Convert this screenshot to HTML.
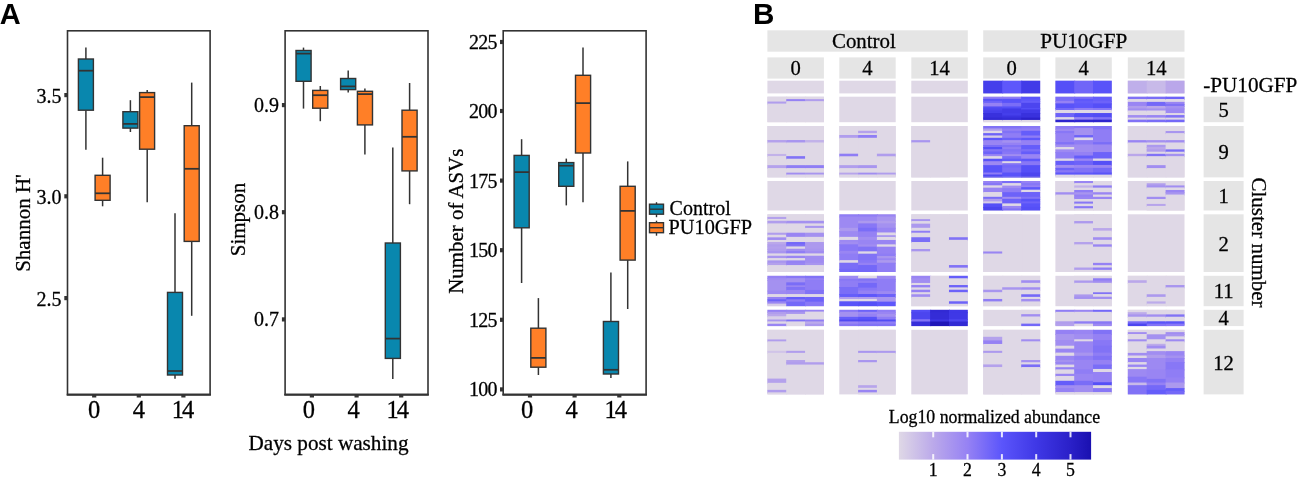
<!DOCTYPE html>
<html><head><meta charset="utf-8"><title>Figure</title>
<style>html,body{margin:0;padding:0;background:#fff;}body{width:1299px;height:479px;overflow:hidden;font-family:"Liberation Serif",serif;}svg{display:block}text{stroke:#000;stroke-width:0.28px;paint-order:stroke fill}text.b{stroke:none}</style>
</head><body>
<svg width="1299" height="479" viewBox="0 0 1299 479">
<defs><filter id="nf" filterUnits="userSpaceOnUse" x="0" y="0" width="1299" height="479" color-interpolation-filters="sRGB"><feOffset dx="0" dy="0"/></filter></defs>
<rect width="1299" height="479" fill="#fff"/>
<g filter="url(#nf)">
<rect x="67.5" y="30.8" width="142.6" height="363.7" fill="none" stroke="#333333" stroke-width="1.6"/>
<line x1="94.2" x2="94.2" y1="394.5" y2="397.5" stroke="#333333" stroke-width="4.2"/>
<text x="94.2" y="418" font-size="24.5" text-anchor="middle" font-family="Liberation Serif, serif" fill="#000">0</text>
<line x1="138.8" x2="138.8" y1="394.5" y2="397.5" stroke="#333333" stroke-width="4.2"/>
<text x="138.8" y="418" font-size="24.5" text-anchor="middle" font-family="Liberation Serif, serif" fill="#000">4</text>
<line x1="183.4" x2="183.4" y1="394.5" y2="397.5" stroke="#333333" stroke-width="4.2"/>
<text x="181.9" y="418" font-size="24.5" text-anchor="middle" letter-spacing="-2.0" font-family="Liberation Serif, serif" fill="#000">14</text>
<line x1="64.3" x2="67.5" y1="95.1" y2="95.1" stroke="#333333" stroke-width="4.2"/>
<text x="61.5" y="103.1" font-size="20" text-anchor="end" font-family="Liberation Serif, serif" fill="#000">3.5</text>
<line x1="64.3" x2="67.5" y1="196.3" y2="196.3" stroke="#333333" stroke-width="4.2"/>
<text x="61.5" y="204.3" font-size="20" text-anchor="end" font-family="Liberation Serif, serif" fill="#000">3.0</text>
<line x1="64.3" x2="67.5" y1="298.1" y2="298.1" stroke="#333333" stroke-width="4.2"/>
<text x="61.5" y="306.1" font-size="20" text-anchor="end" font-family="Liberation Serif, serif" fill="#000">2.5</text>
<line x1="85.9" x2="85.9" y1="47.5" y2="59.0" stroke="#333333" stroke-width="1.5"/><line x1="85.9" x2="85.9" y1="110.2" y2="149.7" stroke="#333333" stroke-width="1.5"/><rect x="78.4" y="59.0" width="15.0" height="51.2" fill="#0987AE" stroke="#333333" stroke-width="1.4"/><line x1="78.4" x2="93.4" y1="70.7" y2="70.7" stroke="#333333" stroke-width="1.75"/>
<line x1="102.6" x2="102.6" y1="157.7" y2="175.3" stroke="#333333" stroke-width="1.5"/><line x1="102.6" x2="102.6" y1="200.3" y2="206.3" stroke="#333333" stroke-width="1.5"/><rect x="95.1" y="175.3" width="15.0" height="25.0" fill="#FF7F27" stroke="#333333" stroke-width="1.4"/><line x1="95.1" x2="110.1" y1="193.3" y2="193.3" stroke="#333333" stroke-width="1.75"/>
<line x1="130.4" x2="130.4" y1="100.2" y2="111.7" stroke="#333333" stroke-width="1.5"/><line x1="130.4" x2="130.4" y1="128.1" y2="132.0" stroke="#333333" stroke-width="1.5"/><rect x="122.9" y="111.7" width="15.0" height="16.4" fill="#0987AE" stroke="#333333" stroke-width="1.4"/><line x1="122.9" x2="138.0" y1="123.9" y2="123.9" stroke="#333333" stroke-width="1.75"/>
<line x1="147.2" x2="147.2" y1="90.1" y2="92.6" stroke="#333333" stroke-width="1.5"/><line x1="147.2" x2="147.2" y1="149.2" y2="202.3" stroke="#333333" stroke-width="1.5"/><rect x="139.6" y="92.6" width="15.0" height="56.6" fill="#FF7F27" stroke="#333333" stroke-width="1.4"/><line x1="139.6" x2="154.7" y1="97.1" y2="97.1" stroke="#333333" stroke-width="1.75"/>
<line x1="175.0" x2="175.0" y1="213.3" y2="292.4" stroke="#333333" stroke-width="1.5"/><line x1="175.0" x2="175.0" y1="375.0" y2="378.7" stroke="#333333" stroke-width="1.5"/><rect x="167.5" y="292.4" width="15.0" height="82.6" fill="#0987AE" stroke="#333333" stroke-width="1.4"/><line x1="167.5" x2="182.5" y1="371.0" y2="371.0" stroke="#333333" stroke-width="1.75"/>
<line x1="191.7" x2="191.7" y1="82.6" y2="125.7" stroke="#333333" stroke-width="1.5"/><line x1="191.7" x2="191.7" y1="241.4" y2="315.8" stroke="#333333" stroke-width="1.5"/><rect x="184.2" y="125.7" width="15.0" height="115.7" fill="#FF7F27" stroke="#333333" stroke-width="1.4"/><line x1="184.2" x2="199.2" y1="168.8" y2="168.8" stroke="#333333" stroke-width="1.75"/>
<line x1="66.7" x2="210.9" y1="394.7" y2="394.7" stroke="#333333" stroke-width="2.0"/>
<rect x="285.1" y="30.8" width="142.9" height="363.7" fill="none" stroke="#333333" stroke-width="1.6"/>
<line x1="311.9" x2="311.9" y1="394.5" y2="397.5" stroke="#333333" stroke-width="4.2"/>
<text x="308.9" y="418" font-size="24.5" text-anchor="middle" font-family="Liberation Serif, serif" fill="#000">0</text>
<line x1="356.6" x2="356.6" y1="394.5" y2="397.5" stroke="#333333" stroke-width="4.2"/>
<text x="353.6" y="418" font-size="24.5" text-anchor="middle" font-family="Liberation Serif, serif" fill="#000">4</text>
<line x1="401.2" x2="401.2" y1="394.5" y2="397.5" stroke="#333333" stroke-width="4.2"/>
<text x="396.7" y="418" font-size="24.5" text-anchor="middle" letter-spacing="-2.0" font-family="Liberation Serif, serif" fill="#000">14</text>
<line x1="281.90000000000003" x2="285.1" y1="105.1" y2="105.1" stroke="#333333" stroke-width="4.2"/>
<text x="279.1" y="111.6" font-size="20" text-anchor="end" font-family="Liberation Serif, serif" fill="#000">0.9</text>
<line x1="281.90000000000003" x2="285.1" y1="212.2" y2="212.2" stroke="#333333" stroke-width="4.2"/>
<text x="279.1" y="218.7" font-size="20" text-anchor="end" font-family="Liberation Serif, serif" fill="#000">0.8</text>
<line x1="281.90000000000003" x2="285.1" y1="319.4" y2="319.4" stroke="#333333" stroke-width="4.2"/>
<text x="279.1" y="325.9" font-size="20" text-anchor="end" font-family="Liberation Serif, serif" fill="#000">0.7</text>
<line x1="303.5" x2="303.5" y1="47.6" y2="50.5" stroke="#333333" stroke-width="1.5"/><line x1="303.5" x2="303.5" y1="81.3" y2="108.6" stroke="#333333" stroke-width="1.5"/><rect x="296.0" y="50.5" width="15.1" height="30.8" fill="#0987AE" stroke="#333333" stroke-width="1.4"/><line x1="296.0" x2="311.1" y1="53.6" y2="53.6" stroke="#333333" stroke-width="1.75"/>
<line x1="320.3" x2="320.3" y1="86.0" y2="90.4" stroke="#333333" stroke-width="1.5"/><line x1="320.3" x2="320.3" y1="108.2" y2="121.2" stroke="#333333" stroke-width="1.5"/><rect x="312.7" y="90.4" width="15.1" height="17.8" fill="#FF7F27" stroke="#333333" stroke-width="1.4"/><line x1="312.7" x2="327.8" y1="95.2" y2="95.2" stroke="#333333" stroke-width="1.75"/>
<line x1="348.2" x2="348.2" y1="70.6" y2="78.5" stroke="#333333" stroke-width="1.5"/><line x1="348.2" x2="348.2" y1="89.6" y2="92.4" stroke="#333333" stroke-width="1.5"/><rect x="340.6" y="78.5" width="15.1" height="11.1" fill="#0987AE" stroke="#333333" stroke-width="1.4"/><line x1="340.6" x2="355.7" y1="86.4" y2="86.4" stroke="#333333" stroke-width="1.75"/>
<line x1="364.9" x2="364.9" y1="88.4" y2="91.3" stroke="#333333" stroke-width="1.5"/><line x1="364.9" x2="364.9" y1="124.9" y2="154.6" stroke="#333333" stroke-width="1.5"/><rect x="357.4" y="91.3" width="15.1" height="33.6" fill="#FF7F27" stroke="#333333" stroke-width="1.4"/><line x1="357.4" x2="372.5" y1="94.1" y2="94.1" stroke="#333333" stroke-width="1.75"/>
<line x1="392.8" x2="392.8" y1="147.5" y2="243.0" stroke="#333333" stroke-width="1.5"/><line x1="392.8" x2="392.8" y1="358.4" y2="379.0" stroke="#333333" stroke-width="1.5"/><rect x="385.3" y="243.0" width="15.1" height="115.4" fill="#0987AE" stroke="#333333" stroke-width="1.4"/><line x1="385.3" x2="400.4" y1="338.6" y2="338.6" stroke="#333333" stroke-width="1.75"/>
<line x1="409.6" x2="409.6" y1="83.0" y2="110.2" stroke="#333333" stroke-width="1.5"/><line x1="409.6" x2="409.6" y1="170.9" y2="204.2" stroke="#333333" stroke-width="1.5"/><rect x="402.0" y="110.2" width="15.1" height="60.7" fill="#FF7F27" stroke="#333333" stroke-width="1.4"/><line x1="402.0" x2="417.1" y1="136.8" y2="136.8" stroke="#333333" stroke-width="1.75"/>
<line x1="284.3" x2="428.8" y1="394.7" y2="394.7" stroke="#333333" stroke-width="2.0"/>
<rect x="503.2" y="30.8" width="142.9" height="363.7" fill="none" stroke="#333333" stroke-width="1.6"/>
<line x1="530.0" x2="530.0" y1="394.5" y2="397.5" stroke="#333333" stroke-width="4.2"/>
<text x="527.0" y="418" font-size="24.5" text-anchor="middle" font-family="Liberation Serif, serif" fill="#000">0</text>
<line x1="574.6" x2="574.6" y1="394.5" y2="397.5" stroke="#333333" stroke-width="4.2"/>
<text x="571.6" y="418" font-size="24.5" text-anchor="middle" font-family="Liberation Serif, serif" fill="#000">4</text>
<line x1="619.3" x2="619.3" y1="394.5" y2="397.5" stroke="#333333" stroke-width="4.2"/>
<text x="614.8" y="418" font-size="24.5" text-anchor="middle" letter-spacing="-2.0" font-family="Liberation Serif, serif" fill="#000">14</text>
<line x1="500.0" x2="503.2" y1="42" y2="42" stroke="#333333" stroke-width="4.2"/>
<text x="496.9" y="48.9" font-size="20" text-anchor="end" letter-spacing="-0.7" font-family="Liberation Serif, serif" fill="#000">225</text>
<line x1="500.0" x2="503.2" y1="111" y2="111" stroke="#333333" stroke-width="4.2"/>
<text x="496.9" y="117.9" font-size="20" text-anchor="end" letter-spacing="-0.7" font-family="Liberation Serif, serif" fill="#000">200</text>
<line x1="500.0" x2="503.2" y1="180.6" y2="180.6" stroke="#333333" stroke-width="4.2"/>
<text x="496.9" y="187.5" font-size="20" text-anchor="end" letter-spacing="-0.7" font-family="Liberation Serif, serif" fill="#000">175</text>
<line x1="500.0" x2="503.2" y1="250.2" y2="250.2" stroke="#333333" stroke-width="4.2"/>
<text x="496.9" y="257.09999999999997" font-size="20" text-anchor="end" letter-spacing="-0.7" font-family="Liberation Serif, serif" fill="#000">150</text>
<line x1="500.0" x2="503.2" y1="319.8" y2="319.8" stroke="#333333" stroke-width="4.2"/>
<text x="496.9" y="326.7" font-size="20" text-anchor="end" letter-spacing="-0.7" font-family="Liberation Serif, serif" fill="#000">125</text>
<line x1="500.0" x2="503.2" y1="389.4" y2="389.4" stroke="#333333" stroke-width="4.2"/>
<text x="496.9" y="396.29999999999995" font-size="20" text-anchor="end" letter-spacing="-0.7" font-family="Liberation Serif, serif" fill="#000">100</text>
<line x1="521.6" x2="521.6" y1="139.2" y2="155.4" stroke="#333333" stroke-width="1.5"/><line x1="521.6" x2="521.6" y1="227.8" y2="283.0" stroke="#333333" stroke-width="1.5"/><rect x="514.1" y="155.4" width="15.1" height="72.4" fill="#0987AE" stroke="#333333" stroke-width="1.4"/><line x1="514.1" x2="529.2" y1="172.1" y2="172.1" stroke="#333333" stroke-width="1.75"/>
<line x1="538.4" x2="538.4" y1="298.1" y2="328.2" stroke="#333333" stroke-width="1.5"/><line x1="538.4" x2="538.4" y1="367.2" y2="375.0" stroke="#333333" stroke-width="1.5"/><rect x="530.8" y="328.2" width="15.1" height="39.0" fill="#FF7F27" stroke="#333333" stroke-width="1.4"/><line x1="530.8" x2="545.9" y1="357.9" y2="357.9" stroke="#333333" stroke-width="1.75"/>
<line x1="566.3" x2="566.3" y1="158.6" y2="162.6" stroke="#333333" stroke-width="1.5"/><line x1="566.3" x2="566.3" y1="186.3" y2="205.4" stroke="#333333" stroke-width="1.5"/><rect x="558.7" y="162.6" width="15.1" height="23.7" fill="#0987AE" stroke="#333333" stroke-width="1.4"/><line x1="558.7" x2="573.8" y1="165.7" y2="165.7" stroke="#333333" stroke-width="1.75"/>
<line x1="583.0" x2="583.0" y1="47.6" y2="75.3" stroke="#333333" stroke-width="1.5"/><line x1="583.0" x2="583.0" y1="153.0" y2="202.2" stroke="#333333" stroke-width="1.5"/><rect x="575.5" y="75.3" width="15.1" height="77.7" fill="#FF7F27" stroke="#333333" stroke-width="1.4"/><line x1="575.5" x2="590.6" y1="103.1" y2="103.1" stroke="#333333" stroke-width="1.75"/>
<line x1="610.9" x2="610.9" y1="272.6" y2="321.5" stroke="#333333" stroke-width="1.5"/><line x1="610.9" x2="610.9" y1="374.0" y2="378.1" stroke="#333333" stroke-width="1.5"/><rect x="603.4" y="321.5" width="15.1" height="52.5" fill="#0987AE" stroke="#333333" stroke-width="1.4"/><line x1="603.4" x2="618.5" y1="369.8" y2="369.8" stroke="#333333" stroke-width="1.75"/>
<line x1="627.7" x2="627.7" y1="161.4" y2="186.3" stroke="#333333" stroke-width="1.5"/><line x1="627.7" x2="627.7" y1="260.1" y2="309.0" stroke="#333333" stroke-width="1.5"/><rect x="620.1" y="186.3" width="15.1" height="73.8" fill="#FF7F27" stroke="#333333" stroke-width="1.4"/><line x1="620.1" x2="635.2" y1="210.9" y2="210.9" stroke="#333333" stroke-width="1.75"/>
<line x1="502.4" x2="646.9" y1="394.7" y2="394.7" stroke="#333333" stroke-width="2.0"/>
<text transform="translate(29.9,223.0) rotate(-90)" font-size="21.0" text-anchor="middle" font-family="Liberation Serif, serif" fill="#000">Shannon H'</text>
<text transform="translate(244.7,219.5) rotate(-90)" font-size="21.0" text-anchor="middle" font-family="Liberation Serif, serif" fill="#000">Simpson</text>
<text transform="translate(462.6,221.2) rotate(-90)" font-size="20.9" text-anchor="middle" font-family="Liberation Serif, serif" fill="#000">Number of ASVs</text>
<text x="328.5" y="449.7" font-size="21.2" text-anchor="middle" font-family="Liberation Serif, serif" fill="#000">Days post washing</text>
<text x="-0.3" y="24.0" font-size="29" class="b" font-weight="bold" font-family="Liberation Sans, sans-serif" fill="#000">A</text>
<text x="752.9" y="24.1" font-size="29.6" class="b" font-weight="bold" font-family="Liberation Sans, sans-serif" fill="#000">B</text>
<line x1="656.5" x2="656.5" y1="202.2" y2="217.2" stroke="#333333" stroke-width="1.4"/>
<rect x="649.5" y="204.2" width="14" height="10" fill="#0987AE" stroke="#333333" stroke-width="1.4"/>
<line x1="649.5" x2="663.5" y1="209.2" y2="209.2" stroke="#333333" stroke-width="1.4"/>
<line x1="656.5" x2="656.5" y1="220.7" y2="235.7" stroke="#333333" stroke-width="1.4"/>
<rect x="649.5" y="222.7" width="14" height="10" fill="#FF7F27" stroke="#333333" stroke-width="1.4"/>
<line x1="649.5" x2="663.5" y1="227.7" y2="227.7" stroke="#333333" stroke-width="1.4"/>
<text x="669.6" y="215.2" font-size="20" font-family="Liberation Serif, serif" fill="#000">Control</text>
<text x="668.6" y="234.1" font-size="20.3" font-family="Liberation Serif, serif" fill="#000">PU10GFP</text>
<rect x="767.4" y="30.3" width="200.4" height="21.4" fill="#E5E5E5"/>
<rect x="983.2" y="30.3" width="201.3" height="21.4" fill="#E5E5E5"/>
<text x="863.9" y="47.6" font-size="20.9" text-anchor="middle" font-family="Liberation Serif, serif" fill="#000">Control</text>
<text x="1083.7" y="47.6" font-size="21.2" text-anchor="middle" font-family="Liberation Serif, serif" fill="#000">PU10GFP</text>
<rect x="767.4" y="57.4" width="56.5" height="21.2" fill="#E5E5E5"/>
<text x="795.6" y="75.0" font-size="20.6" text-anchor="middle" font-family="Liberation Serif, serif" fill="#000">0</text>
<rect x="839.3" y="57.4" width="56.4" height="21.2" fill="#E5E5E5"/>
<text x="867.5" y="75.0" font-size="20.6" text-anchor="middle" font-family="Liberation Serif, serif" fill="#000">4</text>
<rect x="911.3" y="57.4" width="56.5" height="21.2" fill="#E5E5E5"/>
<text x="939.5" y="75.0" font-size="20.6" text-anchor="middle" font-family="Liberation Serif, serif" fill="#000">14</text>
<rect x="983.2" y="57.4" width="57.0" height="21.2" fill="#E5E5E5"/>
<text x="1011.7" y="75.0" font-size="20.6" text-anchor="middle" font-family="Liberation Serif, serif" fill="#000">0</text>
<rect x="1055.4" y="57.4" width="56.4" height="21.2" fill="#E5E5E5"/>
<text x="1083.6" y="75.0" font-size="20.6" text-anchor="middle" font-family="Liberation Serif, serif" fill="#000">4</text>
<rect x="1127.8" y="57.4" width="56.7" height="21.2" fill="#E5E5E5"/>
<text x="1156.2" y="75.0" font-size="20.6" text-anchor="middle" font-family="Liberation Serif, serif" fill="#000">14</text>
<rect x="1203.6" y="96.7" width="40.0" height="25.5" fill="#E5E5E5"/>
<text x="1223.6" y="116.9" font-size="20.6" text-anchor="middle" font-family="Liberation Serif, serif" fill="#000">5</text>
<rect x="1203.6" y="126.0" width="40.0" height="51.4" fill="#E5E5E5"/>
<text x="1223.6" y="159.1" font-size="20.6" text-anchor="middle" font-family="Liberation Serif, serif" fill="#000">9</text>
<rect x="1203.6" y="181.0" width="40.0" height="29.5" fill="#E5E5E5"/>
<text x="1223.6" y="203.2" font-size="20.6" text-anchor="middle" font-family="Liberation Serif, serif" fill="#000">1</text>
<rect x="1203.6" y="214.3" width="40.0" height="57.7" fill="#E5E5E5"/>
<text x="1223.6" y="250.6" font-size="20.6" text-anchor="middle" font-family="Liberation Serif, serif" fill="#000">2</text>
<rect x="1203.6" y="275.8" width="40.0" height="30.4" fill="#E5E5E5"/>
<text x="1223.6" y="298.4" font-size="20.6" text-anchor="middle" font-family="Liberation Serif, serif" fill="#000">11</text>
<rect x="1203.6" y="309.8" width="40.0" height="16.3" fill="#E5E5E5"/>
<text x="1223.6" y="325.4" font-size="20.6" text-anchor="middle" font-family="Liberation Serif, serif" fill="#000">4</text>
<rect x="1203.6" y="329.8" width="40.0" height="64.6" fill="#E5E5E5"/>
<text x="1223.6" y="369.5" font-size="20.6" text-anchor="middle" font-family="Liberation Serif, serif" fill="#000">12</text>
<text x="1203.2" y="91.7" font-size="21.2" font-family="Liberation Serif, serif" fill="#000">-PU10GFP</text>
<text transform="translate(1252.3,242.5) rotate(90)" font-size="21.0" text-anchor="middle" font-family="Liberation Serif, serif" fill="#000">Cluster number</text>
<rect x="767.4" y="80.7" width="56.5" height="12.7" fill="#DFD8E6"/>
<rect x="839.3" y="80.7" width="56.4" height="12.7" fill="#DFD8E6"/>
<rect x="911.3" y="80.7" width="56.5" height="12.7" fill="#DFD8E6"/>
<rect x="983.2" y="80.7" width="57.0" height="12.7" fill="#DFD8E6"/>
<rect x="983.20" y="80.70" width="20.00" height="12.70" fill="#453FEB"/>
<rect x="1002.20" y="80.70" width="20.00" height="12.70" fill="#5E57FB"/>
<rect x="1021.20" y="80.70" width="19.00" height="12.70" fill="#423BE8"/>
<rect x="1055.4" y="80.7" width="56.4" height="12.7" fill="#DFD8E6"/>
<rect x="1055.40" y="80.70" width="19.80" height="12.70" fill="#554FF7"/>
<rect x="1074.20" y="80.70" width="19.80" height="12.70" fill="#7065F8"/>
<rect x="1093.00" y="80.70" width="18.80" height="12.70" fill="#5953F9"/>
<rect x="1127.8" y="80.7" width="56.7" height="12.7" fill="#DFD8E6"/>
<rect x="1127.80" y="80.70" width="19.90" height="12.70" fill="#BFAFEA"/>
<rect x="1146.70" y="80.70" width="19.90" height="12.70" fill="#C8BAE9"/>
<rect x="1165.60" y="80.70" width="18.90" height="12.70" fill="#BAA7EA"/>
<rect x="767.4" y="96.7" width="56.5" height="25.5" fill="#DFD8E6"/>
<rect x="767.40" y="96.70" width="19.83" height="5.86" fill="#DFD8E6"/>
<rect x="767.40" y="101.56" width="19.83" height="3.03" fill="#B09DED"/>
<rect x="767.40" y="103.59" width="19.83" height="18.61" fill="#DFD8E6"/>
<rect x="786.23" y="96.70" width="19.83" height="3.42" fill="#DFD8E6"/>
<rect x="786.23" y="99.12" width="19.83" height="3.03" fill="#9581F4"/>
<rect x="786.23" y="101.15" width="19.83" height="21.05" fill="#DFD8E6"/>
<rect x="805.07" y="96.70" width="18.83" height="3.42" fill="#DFD8E6"/>
<rect x="805.07" y="99.12" width="18.83" height="3.03" fill="#B09DED"/>
<rect x="805.07" y="101.15" width="18.83" height="21.05" fill="#DFD8E6"/>
<rect x="839.3" y="96.7" width="56.4" height="25.5" fill="#DFD8E6"/>
<rect x="911.3" y="96.7" width="56.5" height="25.5" fill="#DFD8E6"/>
<rect x="983.2" y="96.7" width="57.0" height="25.5" fill="#DFD8E6"/>
<rect x="983.20" y="96.70" width="20.00" height="3.12" fill="#8F7DF5"/>
<rect x="983.20" y="98.82" width="20.00" height="3.03" fill="#5953F9"/>
<rect x="983.20" y="100.85" width="20.00" height="3.03" fill="#6D62F9"/>
<rect x="983.20" y="102.88" width="20.00" height="4.56" fill="#9581F4"/>
<rect x="983.20" y="106.44" width="20.00" height="3.03" fill="#524CF4"/>
<rect x="983.20" y="108.47" width="20.00" height="3.03" fill="#4C45EF"/>
<rect x="983.20" y="110.50" width="20.00" height="3.54" fill="#453FEB"/>
<rect x="983.20" y="113.04" width="20.00" height="5.57" fill="#3931DD"/>
<rect x="983.20" y="117.61" width="20.00" height="3.34" fill="#322AD4"/>
<rect x="983.20" y="119.95" width="20.00" height="2.25" fill="#DFD8E6"/>
<rect x="1002.20" y="96.70" width="20.00" height="3.12" fill="#8F7DF5"/>
<rect x="1002.20" y="98.82" width="20.00" height="3.03" fill="#5953F9"/>
<rect x="1002.20" y="100.85" width="20.00" height="3.03" fill="#5953F9"/>
<rect x="1002.20" y="102.88" width="20.00" height="4.56" fill="#7A6DF7"/>
<rect x="1002.20" y="106.44" width="20.00" height="3.03" fill="#554FF7"/>
<rect x="1002.20" y="108.47" width="20.00" height="5.57" fill="#423BE8"/>
<rect x="1002.20" y="113.04" width="20.00" height="3.54" fill="#453FEB"/>
<rect x="1002.20" y="115.58" width="20.00" height="3.03" fill="#3B33E0"/>
<rect x="1002.20" y="117.61" width="20.00" height="3.34" fill="#342CD7"/>
<rect x="1002.20" y="119.95" width="20.00" height="2.25" fill="#DFD8E6"/>
<rect x="1021.20" y="96.70" width="19.00" height="3.12" fill="#5953F9"/>
<rect x="1021.20" y="98.82" width="19.00" height="3.03" fill="#5E57FB"/>
<rect x="1021.20" y="100.85" width="19.00" height="3.03" fill="#655DFA"/>
<rect x="1021.20" y="102.88" width="19.00" height="6.08" fill="#4C45EF"/>
<rect x="1021.20" y="107.96" width="19.00" height="2.52" fill="#554FF7"/>
<rect x="1021.20" y="109.48" width="19.00" height="4.56" fill="#423BE8"/>
<rect x="1021.20" y="113.04" width="19.00" height="5.57" fill="#3931DD"/>
<rect x="1021.20" y="117.61" width="19.00" height="3.34" fill="#2C22CB"/>
<rect x="1021.20" y="119.95" width="19.00" height="2.25" fill="#DFD8E6"/>
<rect x="1055.4" y="96.7" width="56.4" height="25.5" fill="#DFD8E6"/>
<rect x="1055.40" y="96.70" width="19.80" height="5.15" fill="#7A6DF7"/>
<rect x="1055.40" y="100.85" width="19.80" height="3.54" fill="#9581F4"/>
<rect x="1055.40" y="103.39" width="19.80" height="5.57" fill="#5953F9"/>
<rect x="1055.40" y="107.96" width="19.80" height="3.03" fill="#7468F8"/>
<rect x="1055.40" y="109.99" width="19.80" height="4.05" fill="#DFD8E6"/>
<rect x="1055.40" y="113.04" width="19.80" height="5.07" fill="#6D62F9"/>
<rect x="1055.40" y="117.11" width="19.80" height="3.54" fill="#DFD8E6"/>
<rect x="1055.40" y="119.65" width="19.80" height="2.55" fill="#2E25CE"/>
<rect x="1074.20" y="96.70" width="19.80" height="3.12" fill="#7A6DF7"/>
<rect x="1074.20" y="98.82" width="19.80" height="3.03" fill="#5E57FB"/>
<rect x="1074.20" y="100.85" width="19.80" height="3.54" fill="#655DFA"/>
<rect x="1074.20" y="103.39" width="19.80" height="5.57" fill="#5E57FB"/>
<rect x="1074.20" y="107.96" width="19.80" height="3.03" fill="#8F7DF5"/>
<rect x="1074.20" y="109.99" width="19.80" height="4.05" fill="#DFD8E6"/>
<rect x="1074.20" y="113.04" width="19.80" height="5.07" fill="#554FF7"/>
<rect x="1074.20" y="117.11" width="19.80" height="3.54" fill="#9985F3"/>
<rect x="1074.20" y="119.65" width="19.80" height="2.55" fill="#3027D1"/>
<rect x="1093.00" y="96.70" width="18.80" height="5.15" fill="#655DFA"/>
<rect x="1093.00" y="100.85" width="18.80" height="3.54" fill="#6D62F9"/>
<rect x="1093.00" y="103.39" width="18.80" height="5.57" fill="#554FF7"/>
<rect x="1093.00" y="107.96" width="18.80" height="3.03" fill="#8877F6"/>
<rect x="1093.00" y="109.99" width="18.80" height="4.05" fill="#DFD8E6"/>
<rect x="1093.00" y="113.04" width="18.80" height="5.07" fill="#524CF4"/>
<rect x="1093.00" y="117.11" width="18.80" height="3.54" fill="#8172F6"/>
<rect x="1093.00" y="119.65" width="18.80" height="2.55" fill="#2E25CE"/>
<rect x="1127.8" y="96.7" width="56.7" height="25.5" fill="#DFD8E6"/>
<rect x="1127.80" y="96.70" width="19.90" height="3.32" fill="#8172F6"/>
<rect x="1127.80" y="99.02" width="19.90" height="3.84" fill="#DFD8E6"/>
<rect x="1127.80" y="101.86" width="19.90" height="5.07" fill="#9985F3"/>
<rect x="1127.80" y="105.93" width="19.90" height="3.54" fill="#B09DED"/>
<rect x="1127.80" y="108.47" width="19.90" height="3.03" fill="#A18DF1"/>
<rect x="1127.80" y="110.50" width="19.90" height="5.57" fill="#DFD8E6"/>
<rect x="1127.80" y="115.07" width="19.90" height="3.54" fill="#A18DF1"/>
<rect x="1127.80" y="117.61" width="19.90" height="3.04" fill="#DFD8E6"/>
<rect x="1127.80" y="119.65" width="19.90" height="2.55" fill="#8172F6"/>
<rect x="1146.70" y="96.70" width="19.90" height="3.32" fill="#7A6DF7"/>
<rect x="1146.70" y="99.02" width="19.90" height="3.84" fill="#DFD8E6"/>
<rect x="1146.70" y="101.86" width="19.90" height="5.07" fill="#7468F8"/>
<rect x="1146.70" y="105.93" width="19.90" height="3.54" fill="#BAA7EA"/>
<rect x="1146.70" y="108.47" width="19.90" height="3.03" fill="#A491F0"/>
<rect x="1146.70" y="110.50" width="19.90" height="5.57" fill="#DFD8E6"/>
<rect x="1146.70" y="115.07" width="19.90" height="3.54" fill="#9985F3"/>
<rect x="1146.70" y="117.61" width="19.90" height="3.04" fill="#DFD8E6"/>
<rect x="1146.70" y="119.65" width="19.90" height="2.55" fill="#7A6DF7"/>
<rect x="1165.60" y="96.70" width="18.90" height="3.32" fill="#6D62F9"/>
<rect x="1165.60" y="99.02" width="18.90" height="3.84" fill="#DFD8E6"/>
<rect x="1165.60" y="101.86" width="18.90" height="3.04" fill="#9985F3"/>
<rect x="1165.60" y="103.90" width="18.90" height="3.03" fill="#8172F6"/>
<rect x="1165.60" y="105.93" width="18.90" height="3.54" fill="#A491F0"/>
<rect x="1165.60" y="108.47" width="18.90" height="5.57" fill="#9D89F2"/>
<rect x="1165.60" y="113.04" width="18.90" height="3.03" fill="#DFD8E6"/>
<rect x="1165.60" y="115.07" width="18.90" height="3.54" fill="#8172F6"/>
<rect x="1165.60" y="117.61" width="18.90" height="3.04" fill="#DFD8E6"/>
<rect x="1165.60" y="119.65" width="18.90" height="2.55" fill="#7468F8"/>
<rect x="767.4" y="126.0" width="56.5" height="51.4" fill="#DFD8E6"/>
<rect x="767.40" y="126.00" width="19.83" height="15.02" fill="#DFD8E6"/>
<rect x="767.40" y="140.02" width="19.83" height="3.45" fill="#B4A1EC"/>
<rect x="767.40" y="142.47" width="19.83" height="12.46" fill="#DFD8E6"/>
<rect x="767.40" y="153.93" width="19.83" height="3.11" fill="#C2B2E9"/>
<rect x="767.40" y="156.04" width="19.83" height="10.12" fill="#DFD8E6"/>
<rect x="767.40" y="165.16" width="19.83" height="3.92" fill="#B4A1EC"/>
<rect x="767.40" y="168.08" width="19.83" height="9.32" fill="#DFD8E6"/>
<rect x="786.23" y="126.00" width="19.83" height="15.02" fill="#DFD8E6"/>
<rect x="786.23" y="140.02" width="19.83" height="3.45" fill="#A895EF"/>
<rect x="786.23" y="142.47" width="19.83" height="14.68" fill="#DFD8E6"/>
<rect x="786.23" y="156.15" width="19.83" height="3.57" fill="#8172F6"/>
<rect x="786.23" y="158.72" width="19.83" height="7.44" fill="#DFD8E6"/>
<rect x="786.23" y="165.16" width="19.83" height="3.92" fill="#8F7DF5"/>
<rect x="786.23" y="168.08" width="19.83" height="5.56" fill="#DFD8E6"/>
<rect x="786.23" y="172.64" width="19.83" height="2.87" fill="#A18DF1"/>
<rect x="786.23" y="174.51" width="19.83" height="2.89" fill="#DFD8E6"/>
<rect x="805.07" y="126.00" width="18.83" height="15.02" fill="#DFD8E6"/>
<rect x="805.07" y="140.02" width="18.83" height="3.45" fill="#C2B2E9"/>
<rect x="805.07" y="142.47" width="18.83" height="23.69" fill="#DFD8E6"/>
<rect x="805.07" y="165.16" width="18.83" height="3.92" fill="#8F7DF5"/>
<rect x="805.07" y="168.08" width="18.83" height="5.56" fill="#DFD8E6"/>
<rect x="805.07" y="172.64" width="18.83" height="2.87" fill="#A895EF"/>
<rect x="805.07" y="174.51" width="18.83" height="2.89" fill="#DFD8E6"/>
<rect x="839.3" y="126.0" width="56.4" height="51.4" fill="#DFD8E6"/>
<rect x="839.30" y="126.00" width="19.80" height="9.99" fill="#DFD8E6"/>
<rect x="839.30" y="134.99" width="19.80" height="3.81" fill="#B09DED"/>
<rect x="839.30" y="137.80" width="19.80" height="16.90" fill="#DFD8E6"/>
<rect x="839.30" y="153.70" width="19.80" height="3.57" fill="#8F7DF5"/>
<rect x="839.30" y="156.27" width="19.80" height="9.89" fill="#DFD8E6"/>
<rect x="839.30" y="165.16" width="19.80" height="3.92" fill="#B09DED"/>
<rect x="839.30" y="168.08" width="19.80" height="5.56" fill="#DFD8E6"/>
<rect x="839.30" y="172.64" width="19.80" height="2.87" fill="#B7A4EB"/>
<rect x="839.30" y="174.51" width="19.80" height="2.89" fill="#DFD8E6"/>
<rect x="858.10" y="126.00" width="19.80" height="5.78" fill="#DFD8E6"/>
<rect x="858.10" y="130.78" width="19.80" height="3.34" fill="#B4A1EC"/>
<rect x="858.10" y="133.12" width="19.80" height="2.87" fill="#DFD8E6"/>
<rect x="858.10" y="134.99" width="19.80" height="3.81" fill="#8F7DF5"/>
<rect x="858.10" y="137.80" width="19.80" height="28.36" fill="#DFD8E6"/>
<rect x="858.10" y="165.16" width="19.80" height="3.92" fill="#A895EF"/>
<rect x="858.10" y="168.08" width="19.80" height="5.56" fill="#DFD8E6"/>
<rect x="858.10" y="172.64" width="19.80" height="2.87" fill="#A18DF1"/>
<rect x="858.10" y="174.51" width="19.80" height="2.89" fill="#DFD8E6"/>
<rect x="876.90" y="126.00" width="18.80" height="28.70" fill="#DFD8E6"/>
<rect x="876.90" y="153.70" width="18.80" height="3.57" fill="#B09DED"/>
<rect x="876.90" y="156.27" width="18.80" height="17.37" fill="#DFD8E6"/>
<rect x="876.90" y="172.64" width="18.80" height="2.87" fill="#B09DED"/>
<rect x="876.90" y="174.51" width="18.80" height="2.89" fill="#DFD8E6"/>
<rect x="911.3" y="126.0" width="56.5" height="51.4" fill="#DFD8E6"/>
<rect x="911.30" y="126.00" width="19.83" height="15.13" fill="#DFD8E6"/>
<rect x="911.30" y="140.13" width="19.83" height="3.23" fill="#A895EF"/>
<rect x="911.30" y="142.36" width="19.83" height="35.04" fill="#DFD8E6"/>
<rect x="930.13" y="126.00" width="19.83" height="51.40" fill="#DFD8E6"/>
<rect x="983.2" y="126.0" width="57.0" height="51.4" fill="#DFD8E6"/>
<rect x="983.20" y="126.00" width="20.00" height="3.44" fill="#8172F6"/>
<rect x="983.20" y="128.44" width="20.00" height="3.34" fill="#B09DED"/>
<rect x="983.20" y="130.78" width="20.00" height="3.34" fill="#DFD8E6"/>
<rect x="983.20" y="133.12" width="20.00" height="3.34" fill="#6D62F9"/>
<rect x="983.20" y="135.46" width="20.00" height="3.34" fill="#D6CCE7"/>
<rect x="983.20" y="137.80" width="20.00" height="3.33" fill="#5E57FB"/>
<rect x="983.20" y="140.13" width="20.00" height="5.92" fill="#9985F3"/>
<rect x="983.20" y="145.05" width="20.00" height="2.98" fill="#7A6DF7"/>
<rect x="983.20" y="147.03" width="20.00" height="3.11" fill="#554FF7"/>
<rect x="983.20" y="149.14" width="20.00" height="3.34" fill="#8172F6"/>
<rect x="983.20" y="151.48" width="20.00" height="3.68" fill="#6D62F9"/>
<rect x="983.20" y="154.16" width="20.00" height="2.99" fill="#9985F3"/>
<rect x="983.20" y="156.15" width="20.00" height="3.57" fill="#DFD8E6"/>
<rect x="983.20" y="158.72" width="20.00" height="3.46" fill="#5953F9"/>
<rect x="983.20" y="161.18" width="20.00" height="4.98" fill="#9D89F2"/>
<rect x="983.20" y="165.16" width="20.00" height="8.36" fill="#5953F9"/>
<rect x="983.20" y="172.52" width="20.00" height="2.99" fill="#8F7DF5"/>
<rect x="983.20" y="174.51" width="20.00" height="3.34" fill="#4F48F2"/>
<rect x="983.20" y="176.85" width="20.00" height="0.55" fill="#DFD8E6"/>
<rect x="1002.20" y="126.00" width="20.00" height="3.44" fill="#8172F6"/>
<rect x="1002.20" y="128.44" width="20.00" height="3.34" fill="#9581F4"/>
<rect x="1002.20" y="130.78" width="20.00" height="3.34" fill="#8172F6"/>
<rect x="1002.20" y="133.12" width="20.00" height="5.68" fill="#8F7DF5"/>
<rect x="1002.20" y="137.80" width="20.00" height="3.33" fill="#6D62F9"/>
<rect x="1002.20" y="140.13" width="20.00" height="3.58" fill="#A491F0"/>
<rect x="1002.20" y="142.71" width="20.00" height="3.34" fill="#9581F4"/>
<rect x="1002.20" y="145.05" width="20.00" height="2.98" fill="#8172F6"/>
<rect x="1002.20" y="147.03" width="20.00" height="3.11" fill="#8F7DF5"/>
<rect x="1002.20" y="149.14" width="20.00" height="3.34" fill="#8172F6"/>
<rect x="1002.20" y="151.48" width="20.00" height="3.68" fill="#8877F6"/>
<rect x="1002.20" y="154.16" width="20.00" height="2.99" fill="#A18DF1"/>
<rect x="1002.20" y="156.15" width="20.00" height="3.57" fill="#7A6DF7"/>
<rect x="1002.20" y="158.72" width="20.00" height="3.46" fill="#655DFA"/>
<rect x="1002.20" y="161.18" width="20.00" height="2.99" fill="#DFD8E6"/>
<rect x="1002.20" y="163.17" width="20.00" height="2.99" fill="#8172F6"/>
<rect x="1002.20" y="165.16" width="20.00" height="3.33" fill="#7468F8"/>
<rect x="1002.20" y="167.49" width="20.00" height="6.03" fill="#7A6DF7"/>
<rect x="1002.20" y="172.52" width="20.00" height="5.33" fill="#5953F9"/>
<rect x="1002.20" y="176.85" width="20.00" height="0.55" fill="#DFD8E6"/>
<rect x="1021.20" y="126.00" width="19.00" height="3.44" fill="#8877F6"/>
<rect x="1021.20" y="128.44" width="19.00" height="3.34" fill="#9581F4"/>
<rect x="1021.20" y="130.78" width="19.00" height="5.68" fill="#655DFA"/>
<rect x="1021.20" y="135.46" width="19.00" height="3.34" fill="#8F7DF5"/>
<rect x="1021.20" y="137.80" width="19.00" height="3.33" fill="#5E57FB"/>
<rect x="1021.20" y="140.13" width="19.00" height="5.92" fill="#9581F4"/>
<rect x="1021.20" y="145.05" width="19.00" height="5.09" fill="#655DFA"/>
<rect x="1021.20" y="149.14" width="19.00" height="3.34" fill="#7A6DF7"/>
<rect x="1021.20" y="151.48" width="19.00" height="3.68" fill="#655DFA"/>
<rect x="1021.20" y="154.16" width="19.00" height="5.56" fill="#9985F3"/>
<rect x="1021.20" y="158.72" width="19.00" height="3.46" fill="#5E57FB"/>
<rect x="1021.20" y="161.18" width="19.00" height="4.98" fill="#8877F6"/>
<rect x="1021.20" y="165.16" width="19.00" height="8.36" fill="#554FF7"/>
<rect x="1021.20" y="172.52" width="19.00" height="5.33" fill="#4C45EF"/>
<rect x="1021.20" y="176.85" width="19.00" height="0.55" fill="#DFD8E6"/>
<rect x="1055.4" y="126.0" width="56.4" height="51.4" fill="#DFD8E6"/>
<rect x="1055.40" y="126.00" width="19.80" height="3.68" fill="#8F7DF5"/>
<rect x="1055.40" y="128.68" width="19.80" height="3.34" fill="#9D89F2"/>
<rect x="1055.40" y="131.02" width="19.80" height="3.10" fill="#8877F6"/>
<rect x="1055.40" y="133.12" width="19.80" height="10.00" fill="#9581F4"/>
<rect x="1055.40" y="142.12" width="19.80" height="3.34" fill="#8172F6"/>
<rect x="1055.40" y="144.46" width="19.80" height="3.57" fill="#A18DF1"/>
<rect x="1055.40" y="147.03" width="19.80" height="3.34" fill="#DFD8E6"/>
<rect x="1055.40" y="149.37" width="19.80" height="3.69" fill="#9D89F2"/>
<rect x="1055.40" y="152.06" width="19.80" height="7.43" fill="#8F7DF5"/>
<rect x="1055.40" y="158.49" width="19.80" height="3.34" fill="#DFD8E6"/>
<rect x="1055.40" y="160.83" width="19.80" height="5.09" fill="#655DFA"/>
<rect x="1055.40" y="164.92" width="19.80" height="3.92" fill="#A18DF1"/>
<rect x="1055.40" y="167.84" width="19.80" height="3.34" fill="#6D62F9"/>
<rect x="1055.40" y="170.18" width="19.80" height="3.34" fill="#8877F6"/>
<rect x="1055.40" y="172.52" width="19.80" height="3.11" fill="#5E57FB"/>
<rect x="1055.40" y="174.63" width="19.80" height="2.77" fill="#DFD8E6"/>
<rect x="1074.20" y="126.00" width="19.80" height="3.09" fill="#8877F6"/>
<rect x="1074.20" y="128.09" width="19.80" height="8.02" fill="#A491F0"/>
<rect x="1074.20" y="135.11" width="19.80" height="3.34" fill="#6D62F9"/>
<rect x="1074.20" y="137.45" width="19.80" height="3.68" fill="#DFD8E6"/>
<rect x="1074.20" y="140.13" width="19.80" height="5.33" fill="#8F7DF5"/>
<rect x="1074.20" y="144.46" width="19.80" height="8.60" fill="#A18DF1"/>
<rect x="1074.20" y="152.06" width="19.80" height="4.51" fill="#9581F4"/>
<rect x="1074.20" y="155.57" width="19.80" height="3.92" fill="#655DFA"/>
<rect x="1074.20" y="158.49" width="19.80" height="3.34" fill="#9985F3"/>
<rect x="1074.20" y="160.83" width="19.80" height="5.09" fill="#6D62F9"/>
<rect x="1074.20" y="164.92" width="19.80" height="3.92" fill="#9985F3"/>
<rect x="1074.20" y="167.84" width="19.80" height="5.68" fill="#8172F6"/>
<rect x="1074.20" y="172.52" width="19.80" height="3.11" fill="#5E57FB"/>
<rect x="1074.20" y="174.63" width="19.80" height="2.77" fill="#DFD8E6"/>
<rect x="1093.00" y="126.00" width="18.80" height="4.26" fill="#8172F6"/>
<rect x="1093.00" y="129.26" width="18.80" height="13.86" fill="#8F7DF5"/>
<rect x="1093.00" y="142.12" width="18.80" height="3.34" fill="#7A6DF7"/>
<rect x="1093.00" y="144.46" width="18.80" height="8.60" fill="#9D89F2"/>
<rect x="1093.00" y="152.06" width="18.80" height="7.43" fill="#6D62F9"/>
<rect x="1093.00" y="158.49" width="18.80" height="3.34" fill="#DFD8E6"/>
<rect x="1093.00" y="160.83" width="18.80" height="5.09" fill="#554FF7"/>
<rect x="1093.00" y="164.92" width="18.80" height="3.92" fill="#9985F3"/>
<rect x="1093.00" y="167.84" width="18.80" height="5.68" fill="#7468F8"/>
<rect x="1093.00" y="172.52" width="18.80" height="3.11" fill="#5953F9"/>
<rect x="1093.00" y="174.63" width="18.80" height="2.77" fill="#DFD8E6"/>
<rect x="1127.8" y="126.0" width="56.7" height="51.4" fill="#DFD8E6"/>
<rect x="1127.80" y="126.00" width="19.90" height="15.13" fill="#DFD8E6"/>
<rect x="1127.80" y="140.13" width="19.90" height="3.34" fill="#9985F3"/>
<rect x="1127.80" y="142.47" width="19.90" height="12.34" fill="#DFD8E6"/>
<rect x="1127.80" y="153.81" width="19.90" height="3.34" fill="#BAA7EA"/>
<rect x="1127.80" y="156.15" width="19.90" height="21.25" fill="#DFD8E6"/>
<rect x="1146.70" y="126.00" width="19.90" height="15.13" fill="#DFD8E6"/>
<rect x="1146.70" y="140.13" width="19.90" height="3.34" fill="#A491F0"/>
<rect x="1146.70" y="142.47" width="19.90" height="3.34" fill="#DFD8E6"/>
<rect x="1146.70" y="144.81" width="19.90" height="3.22" fill="#AC99EE"/>
<rect x="1146.70" y="147.03" width="19.90" height="3.34" fill="#BAA7EA"/>
<rect x="1146.70" y="149.37" width="19.90" height="3.34" fill="#B09DED"/>
<rect x="1146.70" y="151.71" width="19.90" height="3.10" fill="#DFD8E6"/>
<rect x="1146.70" y="153.81" width="19.90" height="3.34" fill="#8172F6"/>
<rect x="1146.70" y="156.15" width="19.90" height="10.01" fill="#DFD8E6"/>
<rect x="1146.70" y="165.16" width="19.90" height="3.92" fill="#A18DF1"/>
<rect x="1146.70" y="168.08" width="19.90" height="9.32" fill="#DFD8E6"/>
<rect x="1165.60" y="126.00" width="18.90" height="6.02" fill="#DFD8E6"/>
<rect x="1165.60" y="131.02" width="18.90" height="3.10" fill="#A895EF"/>
<rect x="1165.60" y="133.12" width="18.90" height="8.01" fill="#DFD8E6"/>
<rect x="1165.60" y="140.13" width="18.90" height="3.34" fill="#A18DF1"/>
<rect x="1165.60" y="142.47" width="18.90" height="7.90" fill="#DFD8E6"/>
<rect x="1165.60" y="149.37" width="18.90" height="3.34" fill="#7A6DF7"/>
<rect x="1165.60" y="151.71" width="18.90" height="3.10" fill="#DFD8E6"/>
<rect x="1165.60" y="153.81" width="18.90" height="3.34" fill="#A491F0"/>
<rect x="1165.60" y="156.15" width="18.90" height="21.25" fill="#DFD8E6"/>
<rect x="767.4" y="181.0" width="56.5" height="29.5" fill="#DFD8E6"/>
<rect x="839.3" y="181.0" width="56.4" height="29.5" fill="#DFD8E6"/>
<rect x="911.3" y="181.0" width="56.5" height="29.5" fill="#DFD8E6"/>
<rect x="983.2" y="181.0" width="57.0" height="29.5" fill="#DFD8E6"/>
<rect x="983.20" y="181.00" width="20.00" height="3.08" fill="#9581F4"/>
<rect x="983.20" y="183.08" width="20.00" height="3.24" fill="#8877F6"/>
<rect x="983.20" y="185.32" width="20.00" height="3.33" fill="#DFD8E6"/>
<rect x="983.20" y="187.65" width="20.00" height="5.37" fill="#9985F3"/>
<rect x="983.20" y="192.02" width="20.00" height="5.78" fill="#DFD8E6"/>
<rect x="983.20" y="196.80" width="20.00" height="3.03" fill="#7A6DF7"/>
<rect x="983.20" y="198.83" width="20.00" height="3.54" fill="#B09DED"/>
<rect x="983.20" y="201.37" width="20.00" height="3.03" fill="#D6CCE7"/>
<rect x="983.20" y="203.40" width="20.00" height="4.56" fill="#554FF7"/>
<rect x="983.20" y="206.96" width="20.00" height="3.54" fill="#4C45EF"/>
<rect x="1002.20" y="181.00" width="20.00" height="3.08" fill="#7A6DF7"/>
<rect x="1002.20" y="183.08" width="20.00" height="3.54" fill="#DFD8E6"/>
<rect x="1002.20" y="185.62" width="20.00" height="3.54" fill="#A18DF1"/>
<rect x="1002.20" y="188.16" width="20.00" height="5.07" fill="#8F7DF5"/>
<rect x="1002.20" y="192.23" width="20.00" height="5.57" fill="#6D62F9"/>
<rect x="1002.20" y="196.80" width="20.00" height="3.03" fill="#A18DF1"/>
<rect x="1002.20" y="198.83" width="20.00" height="5.57" fill="#6D62F9"/>
<rect x="1002.20" y="203.40" width="20.00" height="3.54" fill="#DFD8E6"/>
<rect x="1002.20" y="205.94" width="20.00" height="3.54" fill="#9985F3"/>
<rect x="1002.20" y="208.48" width="20.00" height="2.02" fill="#8172F6"/>
<rect x="1021.20" y="181.00" width="19.00" height="3.08" fill="#9581F4"/>
<rect x="1021.20" y="183.08" width="19.00" height="3.24" fill="#8877F6"/>
<rect x="1021.20" y="185.32" width="19.00" height="2.83" fill="#9581F4"/>
<rect x="1021.20" y="187.15" width="19.00" height="3.54" fill="#5E57FB"/>
<rect x="1021.20" y="189.69" width="19.00" height="3.33" fill="#DFD8E6"/>
<rect x="1021.20" y="192.02" width="19.00" height="5.78" fill="#6D62F9"/>
<rect x="1021.20" y="196.80" width="19.00" height="3.03" fill="#8172F6"/>
<rect x="1021.20" y="198.83" width="19.00" height="3.54" fill="#5953F9"/>
<rect x="1021.20" y="201.37" width="19.00" height="3.03" fill="#6D62F9"/>
<rect x="1021.20" y="203.40" width="19.00" height="4.56" fill="#5953F9"/>
<rect x="1021.20" y="206.96" width="19.00" height="3.54" fill="#554FF7"/>
<rect x="1055.4" y="181.0" width="56.4" height="29.5" fill="#DFD8E6"/>
<rect x="1055.40" y="181.00" width="19.80" height="12.23" fill="#DFD8E6"/>
<rect x="1055.40" y="192.23" width="19.80" height="3.33" fill="#A18DF1"/>
<rect x="1055.40" y="194.56" width="19.80" height="15.94" fill="#DFD8E6"/>
<rect x="1074.20" y="181.00" width="19.80" height="3.08" fill="#9985F3"/>
<rect x="1074.20" y="183.08" width="19.80" height="3.34" fill="#DFD8E6"/>
<rect x="1074.20" y="185.42" width="19.80" height="3.23" fill="#C2B2E9"/>
<rect x="1074.20" y="187.65" width="19.80" height="3.34" fill="#DFD8E6"/>
<rect x="1074.20" y="189.99" width="19.80" height="3.24" fill="#8F7DF5"/>
<rect x="1074.20" y="192.23" width="19.80" height="3.33" fill="#A895EF"/>
<rect x="1074.20" y="194.56" width="19.80" height="3.24" fill="#9581F4"/>
<rect x="1074.20" y="196.80" width="19.80" height="3.23" fill="#9985F3"/>
<rect x="1074.20" y="199.03" width="19.80" height="3.55" fill="#DFD8E6"/>
<rect x="1074.20" y="201.58" width="19.80" height="3.03" fill="#8877F6"/>
<rect x="1074.20" y="203.61" width="19.80" height="3.54" fill="#DFD8E6"/>
<rect x="1074.20" y="206.15" width="19.80" height="3.13" fill="#8877F6"/>
<rect x="1074.20" y="208.28" width="19.80" height="2.22" fill="#DFD8E6"/>
<rect x="1093.00" y="181.00" width="18.80" height="5.42" fill="#DFD8E6"/>
<rect x="1093.00" y="185.42" width="18.80" height="3.23" fill="#8F7DF5"/>
<rect x="1093.00" y="187.65" width="18.80" height="5.58" fill="#DFD8E6"/>
<rect x="1093.00" y="192.23" width="18.80" height="3.33" fill="#9985F3"/>
<rect x="1093.00" y="194.56" width="18.80" height="3.24" fill="#DFD8E6"/>
<rect x="1093.00" y="196.80" width="18.80" height="3.23" fill="#9985F3"/>
<rect x="1093.00" y="199.03" width="18.80" height="11.47" fill="#DFD8E6"/>
<rect x="1127.8" y="181.0" width="56.7" height="29.5" fill="#DFD8E6"/>
<rect x="1146.70" y="181.00" width="19.90" height="3.28" fill="#DFD8E6"/>
<rect x="1146.70" y="183.28" width="19.90" height="3.14" fill="#B09DED"/>
<rect x="1146.70" y="185.42" width="19.90" height="3.03" fill="#A491F0"/>
<rect x="1146.70" y="187.45" width="19.90" height="10.35" fill="#DFD8E6"/>
<rect x="1146.70" y="196.80" width="19.90" height="3.23" fill="#A18DF1"/>
<rect x="1146.70" y="199.03" width="19.90" height="5.88" fill="#DFD8E6"/>
<rect x="1146.70" y="203.91" width="19.90" height="3.03" fill="#B7A4EB"/>
<rect x="1146.70" y="205.94" width="19.90" height="4.56" fill="#DFD8E6"/>
<rect x="1165.60" y="181.00" width="18.90" height="5.42" fill="#DFD8E6"/>
<rect x="1165.60" y="185.42" width="18.90" height="3.03" fill="#A18DF1"/>
<rect x="1165.60" y="187.45" width="18.90" height="3.54" fill="#DFD8E6"/>
<rect x="1165.60" y="189.99" width="18.90" height="3.24" fill="#9985F3"/>
<rect x="1165.60" y="192.23" width="18.90" height="3.33" fill="#A895EF"/>
<rect x="1165.60" y="194.56" width="18.90" height="15.94" fill="#DFD8E6"/>
<rect x="767.4" y="214.3" width="56.5" height="57.7" fill="#DFD8E6"/>
<rect x="767.40" y="214.30" width="19.83" height="3.62" fill="#DFD8E6"/>
<rect x="767.40" y="216.92" width="19.83" height="3.07" fill="#B4A1EC"/>
<rect x="767.40" y="218.99" width="19.83" height="2.81" fill="#DFD8E6"/>
<rect x="767.40" y="220.80" width="19.83" height="3.59" fill="#B09DED"/>
<rect x="767.40" y="223.39" width="19.83" height="10.32" fill="#DFD8E6"/>
<rect x="767.40" y="232.71" width="19.83" height="3.07" fill="#B09DED"/>
<rect x="767.40" y="234.78" width="19.83" height="3.58" fill="#DFD8E6"/>
<rect x="767.40" y="237.36" width="19.83" height="3.59" fill="#A18DF1"/>
<rect x="767.40" y="239.95" width="19.83" height="3.07" fill="#DFD8E6"/>
<rect x="767.40" y="242.02" width="19.83" height="3.33" fill="#BAA7EA"/>
<rect x="767.40" y="244.35" width="19.83" height="3.07" fill="#B09DED"/>
<rect x="767.40" y="246.42" width="19.83" height="3.33" fill="#B4A1EC"/>
<rect x="767.40" y="248.75" width="19.83" height="3.33" fill="#B09DED"/>
<rect x="767.40" y="251.08" width="19.83" height="3.33" fill="#A895EF"/>
<rect x="767.40" y="253.41" width="19.83" height="3.33" fill="#DFD8E6"/>
<rect x="767.40" y="255.74" width="19.83" height="3.33" fill="#A895EF"/>
<rect x="767.40" y="258.07" width="19.83" height="3.33" fill="#DFD8E6"/>
<rect x="767.40" y="260.40" width="19.83" height="3.33" fill="#A895EF"/>
<rect x="767.40" y="262.73" width="19.83" height="3.33" fill="#B4A1EC"/>
<rect x="767.40" y="265.06" width="19.83" height="6.94" fill="#DFD8E6"/>
<rect x="786.23" y="214.30" width="19.83" height="7.50" fill="#DFD8E6"/>
<rect x="786.23" y="220.80" width="19.83" height="3.59" fill="#A491F0"/>
<rect x="786.23" y="223.39" width="19.83" height="10.32" fill="#DFD8E6"/>
<rect x="786.23" y="232.71" width="19.83" height="3.07" fill="#9985F3"/>
<rect x="786.23" y="234.78" width="19.83" height="3.07" fill="#9985F3"/>
<rect x="786.23" y="236.85" width="19.83" height="6.17" fill="#DFD8E6"/>
<rect x="786.23" y="242.02" width="19.83" height="3.33" fill="#7468F8"/>
<rect x="786.23" y="244.35" width="19.83" height="3.07" fill="#8172F6"/>
<rect x="786.23" y="246.42" width="19.83" height="3.33" fill="#DFD8E6"/>
<rect x="786.23" y="248.75" width="19.83" height="3.33" fill="#A18DF1"/>
<rect x="786.23" y="251.08" width="19.83" height="3.33" fill="#8F7DF5"/>
<rect x="786.23" y="253.41" width="19.83" height="3.33" fill="#DFD8E6"/>
<rect x="786.23" y="255.74" width="19.83" height="3.33" fill="#9985F3"/>
<rect x="786.23" y="258.07" width="19.83" height="3.33" fill="#DFD8E6"/>
<rect x="786.23" y="260.40" width="19.83" height="3.33" fill="#9581F4"/>
<rect x="786.23" y="262.73" width="19.83" height="3.33" fill="#9985F3"/>
<rect x="786.23" y="265.06" width="19.83" height="6.94" fill="#DFD8E6"/>
<rect x="805.07" y="214.30" width="18.83" height="7.50" fill="#DFD8E6"/>
<rect x="805.07" y="220.80" width="18.83" height="3.59" fill="#A491F0"/>
<rect x="805.07" y="223.39" width="18.83" height="3.46" fill="#DFD8E6"/>
<rect x="805.07" y="225.85" width="18.83" height="3.07" fill="#A895EF"/>
<rect x="805.07" y="227.92" width="18.83" height="5.79" fill="#DFD8E6"/>
<rect x="805.07" y="232.71" width="18.83" height="3.07" fill="#A491F0"/>
<rect x="805.07" y="234.78" width="18.83" height="3.07" fill="#A491F0"/>
<rect x="805.07" y="236.85" width="18.83" height="6.17" fill="#DFD8E6"/>
<rect x="805.07" y="242.02" width="18.83" height="3.33" fill="#AC99EE"/>
<rect x="805.07" y="244.35" width="18.83" height="3.07" fill="#AC99EE"/>
<rect x="805.07" y="246.42" width="18.83" height="3.33" fill="#AC99EE"/>
<rect x="805.07" y="248.75" width="18.83" height="3.33" fill="#A895EF"/>
<rect x="805.07" y="251.08" width="18.83" height="3.33" fill="#A18DF1"/>
<rect x="805.07" y="253.41" width="18.83" height="3.33" fill="#DFD8E6"/>
<rect x="805.07" y="255.74" width="18.83" height="3.33" fill="#A18DF1"/>
<rect x="805.07" y="258.07" width="18.83" height="3.33" fill="#A18DF1"/>
<rect x="805.07" y="260.40" width="18.83" height="3.33" fill="#A18DF1"/>
<rect x="805.07" y="262.73" width="18.83" height="3.33" fill="#A895EF"/>
<rect x="805.07" y="265.06" width="18.83" height="6.94" fill="#DFD8E6"/>
<rect x="839.3" y="214.3" width="56.4" height="57.7" fill="#DFD8E6"/>
<rect x="839.30" y="214.30" width="19.80" height="3.23" fill="#8F7DF5"/>
<rect x="839.30" y="216.53" width="19.80" height="12.26" fill="#9D89F2"/>
<rect x="839.30" y="227.79" width="19.80" height="4.36" fill="#AC99EE"/>
<rect x="839.30" y="231.15" width="19.80" height="6.70" fill="#9D89F2"/>
<rect x="839.30" y="236.85" width="19.80" height="4.10" fill="#DFD8E6"/>
<rect x="839.30" y="239.95" width="19.80" height="3.07" fill="#9D89F2"/>
<rect x="839.30" y="242.02" width="19.80" height="3.33" fill="#A18DF1"/>
<rect x="839.30" y="244.35" width="19.80" height="7.47" fill="#8877F6"/>
<rect x="839.30" y="250.82" width="19.80" height="3.85" fill="#9985F3"/>
<rect x="839.30" y="253.67" width="19.80" height="7.47" fill="#8F7DF5"/>
<rect x="839.30" y="260.14" width="19.80" height="3.59" fill="#DFD8E6"/>
<rect x="839.30" y="262.73" width="19.80" height="7.21" fill="#7A6DF7"/>
<rect x="839.30" y="268.94" width="19.80" height="3.06" fill="#7468F8"/>
<rect x="858.10" y="214.30" width="19.80" height="3.23" fill="#8F7DF5"/>
<rect x="858.10" y="216.53" width="19.80" height="5.27" fill="#9D89F2"/>
<rect x="858.10" y="220.80" width="19.80" height="3.59" fill="#AC99EE"/>
<rect x="858.10" y="223.39" width="19.80" height="5.40" fill="#8877F6"/>
<rect x="858.10" y="227.79" width="19.80" height="4.62" fill="#7A6DF7"/>
<rect x="858.10" y="231.41" width="19.80" height="6.44" fill="#9581F4"/>
<rect x="858.10" y="236.85" width="19.80" height="4.10" fill="#A18DF1"/>
<rect x="858.10" y="239.95" width="19.80" height="5.40" fill="#9985F3"/>
<rect x="858.10" y="244.35" width="19.80" height="3.33" fill="#A18DF1"/>
<rect x="858.10" y="246.68" width="19.80" height="5.66" fill="#8172F6"/>
<rect x="858.10" y="251.34" width="19.80" height="3.33" fill="#DFD8E6"/>
<rect x="858.10" y="253.67" width="19.80" height="7.47" fill="#8172F6"/>
<rect x="858.10" y="260.14" width="19.80" height="3.59" fill="#8877F6"/>
<rect x="858.10" y="262.73" width="19.80" height="3.33" fill="#9581F4"/>
<rect x="858.10" y="265.06" width="19.80" height="6.94" fill="#7468F8"/>
<rect x="876.90" y="214.30" width="18.80" height="3.23" fill="#9985F3"/>
<rect x="876.90" y="216.53" width="18.80" height="5.27" fill="#A895EF"/>
<rect x="876.90" y="220.80" width="18.80" height="3.59" fill="#B09DED"/>
<rect x="876.90" y="223.39" width="18.80" height="5.40" fill="#A491F0"/>
<rect x="876.90" y="227.79" width="18.80" height="5.66" fill="#9985F3"/>
<rect x="876.90" y="232.45" width="18.80" height="3.84" fill="#DFD8E6"/>
<rect x="876.90" y="235.29" width="18.80" height="2.56" fill="#A18DF1"/>
<rect x="876.90" y="236.85" width="18.80" height="4.10" fill="#DFD8E6"/>
<rect x="876.90" y="239.95" width="18.80" height="5.40" fill="#9985F3"/>
<rect x="876.90" y="244.35" width="18.80" height="3.33" fill="#DFD8E6"/>
<rect x="876.90" y="246.68" width="18.80" height="7.99" fill="#9581F4"/>
<rect x="876.90" y="253.67" width="18.80" height="3.33" fill="#8F7DF5"/>
<rect x="876.90" y="256.00" width="18.80" height="3.33" fill="#A895EF"/>
<rect x="876.90" y="258.33" width="18.80" height="2.81" fill="#9985F3"/>
<rect x="876.90" y="260.14" width="18.80" height="3.59" fill="#AC99EE"/>
<rect x="876.90" y="262.73" width="18.80" height="9.27" fill="#8F7DF5"/>
<rect x="911.3" y="214.3" width="56.5" height="57.7" fill="#DFD8E6"/>
<rect x="911.30" y="214.30" width="19.83" height="5.82" fill="#DFD8E6"/>
<rect x="911.30" y="219.12" width="19.83" height="2.94" fill="#A895EF"/>
<rect x="911.30" y="221.06" width="19.83" height="3.59" fill="#DFD8E6"/>
<rect x="911.30" y="223.65" width="19.83" height="5.14" fill="#AC99EE"/>
<rect x="911.30" y="227.79" width="19.83" height="3.97" fill="#DFD8E6"/>
<rect x="911.30" y="230.76" width="19.83" height="2.95" fill="#8F7DF5"/>
<rect x="911.30" y="232.71" width="19.83" height="5.53" fill="#DFD8E6"/>
<rect x="911.30" y="237.24" width="19.83" height="3.58" fill="#7A6DF7"/>
<rect x="911.30" y="239.82" width="19.83" height="3.20" fill="#7A6DF7"/>
<rect x="911.30" y="242.02" width="19.83" height="7.99" fill="#DFD8E6"/>
<rect x="911.30" y="249.01" width="19.83" height="3.33" fill="#A895EF"/>
<rect x="911.30" y="251.34" width="19.83" height="20.66" fill="#DFD8E6"/>
<rect x="930.13" y="214.30" width="19.83" height="57.70" fill="#DFD8E6"/>
<rect x="948.97" y="214.30" width="18.83" height="23.94" fill="#DFD8E6"/>
<rect x="948.97" y="237.24" width="18.83" height="3.58" fill="#8172F6"/>
<rect x="948.97" y="239.82" width="18.83" height="26.24" fill="#DFD8E6"/>
<rect x="948.97" y="265.06" width="18.83" height="3.59" fill="#8172F6"/>
<rect x="948.97" y="267.65" width="18.83" height="4.35" fill="#DFD8E6"/>
<rect x="983.2" y="214.3" width="57.0" height="57.7" fill="#DFD8E6"/>
<rect x="983.20" y="214.30" width="20.00" height="38.17" fill="#DFD8E6"/>
<rect x="983.20" y="251.47" width="20.00" height="3.07" fill="#9985F3"/>
<rect x="983.20" y="253.54" width="20.00" height="18.46" fill="#DFD8E6"/>
<rect x="1002.20" y="214.30" width="20.00" height="57.70" fill="#DFD8E6"/>
<rect x="1055.4" y="214.3" width="56.4" height="57.7" fill="#DFD8E6"/>
<rect x="1074.20" y="214.30" width="19.80" height="7.76" fill="#DFD8E6"/>
<rect x="1074.20" y="221.06" width="19.80" height="3.33" fill="#AC99EE"/>
<rect x="1074.20" y="223.39" width="19.80" height="19.63" fill="#DFD8E6"/>
<rect x="1074.20" y="242.02" width="19.80" height="3.33" fill="#B4A1EC"/>
<rect x="1074.20" y="244.35" width="19.80" height="24.17" fill="#DFD8E6"/>
<rect x="1074.20" y="267.52" width="19.80" height="3.33" fill="#B09DED"/>
<rect x="1074.20" y="269.85" width="19.80" height="2.15" fill="#DFD8E6"/>
<rect x="1093.00" y="214.30" width="18.80" height="14.75" fill="#DFD8E6"/>
<rect x="1093.00" y="228.05" width="18.80" height="3.59" fill="#BAA7EA"/>
<rect x="1093.00" y="230.64" width="18.80" height="7.60" fill="#DFD8E6"/>
<rect x="1093.00" y="237.24" width="18.80" height="3.58" fill="#A18DF1"/>
<rect x="1093.00" y="239.82" width="18.80" height="5.53" fill="#DFD8E6"/>
<rect x="1093.00" y="244.35" width="18.80" height="3.33" fill="#9985F3"/>
<rect x="1093.00" y="246.68" width="18.80" height="17.18" fill="#DFD8E6"/>
<rect x="1093.00" y="262.86" width="18.80" height="3.33" fill="#9581F4"/>
<rect x="1093.00" y="265.19" width="18.80" height="3.33" fill="#DFD8E6"/>
<rect x="1093.00" y="267.52" width="18.80" height="3.33" fill="#8F7DF5"/>
<rect x="1093.00" y="269.85" width="18.80" height="2.15" fill="#DFD8E6"/>
<rect x="1127.8" y="214.3" width="56.7" height="57.7" fill="#DFD8E6"/>
<rect x="767.4" y="275.8" width="56.5" height="30.4" fill="#DFD8E6"/>
<rect x="767.40" y="275.80" width="19.83" height="3.34" fill="#9581F4"/>
<rect x="767.40" y="278.14" width="19.83" height="2.88" fill="#A18DF1"/>
<rect x="767.40" y="280.02" width="19.83" height="11.52" fill="#A491F0"/>
<rect x="767.40" y="290.54" width="19.83" height="4.51" fill="#9D89F2"/>
<rect x="767.40" y="294.05" width="19.83" height="3.92" fill="#DFD8E6"/>
<rect x="767.40" y="296.97" width="19.83" height="3.34" fill="#9581F4"/>
<rect x="767.40" y="299.31" width="19.83" height="2.98" fill="#6D62F9"/>
<rect x="767.40" y="301.29" width="19.83" height="3.34" fill="#9985F3"/>
<rect x="767.40" y="303.63" width="19.83" height="2.57" fill="#D6CCE7"/>
<rect x="786.23" y="275.80" width="19.83" height="3.34" fill="#8877F6"/>
<rect x="786.23" y="278.14" width="19.83" height="5.21" fill="#A491F0"/>
<rect x="786.23" y="282.35" width="19.83" height="3.93" fill="#7A6DF7"/>
<rect x="786.23" y="285.28" width="19.83" height="2.75" fill="#9985F3"/>
<rect x="786.23" y="287.03" width="19.83" height="3.92" fill="#8172F6"/>
<rect x="786.23" y="289.95" width="19.83" height="5.10" fill="#9985F3"/>
<rect x="786.23" y="294.05" width="19.83" height="3.92" fill="#DFD8E6"/>
<rect x="786.23" y="296.97" width="19.83" height="3.34" fill="#655DFA"/>
<rect x="786.23" y="299.31" width="19.83" height="3.33" fill="#8F7DF5"/>
<rect x="786.23" y="301.64" width="19.83" height="4.56" fill="#7468F8"/>
<rect x="805.07" y="275.80" width="18.83" height="3.34" fill="#8172F6"/>
<rect x="805.07" y="278.14" width="18.83" height="2.88" fill="#9581F4"/>
<rect x="805.07" y="280.02" width="18.83" height="10.93" fill="#8F7DF5"/>
<rect x="805.07" y="289.95" width="18.83" height="5.10" fill="#8172F6"/>
<rect x="805.07" y="294.05" width="18.83" height="3.92" fill="#DFD8E6"/>
<rect x="805.07" y="296.97" width="18.83" height="5.67" fill="#6D62F9"/>
<rect x="805.07" y="301.64" width="18.83" height="4.56" fill="#8877F6"/>
<rect x="839.3" y="275.8" width="56.4" height="30.4" fill="#DFD8E6"/>
<rect x="839.30" y="275.80" width="19.80" height="4.05" fill="#9D89F2"/>
<rect x="839.30" y="278.85" width="19.80" height="2.75" fill="#8877F6"/>
<rect x="839.30" y="280.60" width="19.80" height="7.43" fill="#8F7DF5"/>
<rect x="839.30" y="287.03" width="19.80" height="8.02" fill="#7A6DF7"/>
<rect x="839.30" y="294.05" width="19.80" height="3.92" fill="#655DFA"/>
<rect x="839.30" y="296.97" width="19.80" height="2.99" fill="#B09DED"/>
<rect x="839.30" y="298.96" width="19.80" height="3.33" fill="#DFD8E6"/>
<rect x="839.30" y="301.29" width="19.80" height="4.91" fill="#5953F9"/>
<rect x="858.10" y="275.80" width="19.80" height="3.58" fill="#DFD8E6"/>
<rect x="858.10" y="278.38" width="19.80" height="3.22" fill="#8172F6"/>
<rect x="858.10" y="280.60" width="19.80" height="3.34" fill="#8F7DF5"/>
<rect x="858.10" y="282.94" width="19.80" height="5.67" fill="#7468F8"/>
<rect x="858.10" y="287.61" width="19.80" height="3.93" fill="#8877F6"/>
<rect x="858.10" y="290.54" width="19.80" height="4.51" fill="#9581F4"/>
<rect x="858.10" y="294.05" width="19.80" height="3.92" fill="#5E57FB"/>
<rect x="858.10" y="296.97" width="19.80" height="2.99" fill="#B09DED"/>
<rect x="858.10" y="298.96" width="19.80" height="3.33" fill="#DFD8E6"/>
<rect x="858.10" y="301.29" width="19.80" height="4.91" fill="#554FF7"/>
<rect x="876.90" y="275.80" width="18.80" height="4.05" fill="#9D89F2"/>
<rect x="876.90" y="278.85" width="18.80" height="2.75" fill="#8F7DF5"/>
<rect x="876.90" y="280.60" width="18.80" height="11.52" fill="#8F7DF5"/>
<rect x="876.90" y="291.12" width="18.80" height="3.93" fill="#9D89F2"/>
<rect x="876.90" y="294.05" width="18.80" height="3.92" fill="#6D62F9"/>
<rect x="876.90" y="296.97" width="18.80" height="5.67" fill="#A895EF"/>
<rect x="876.90" y="301.64" width="18.80" height="4.56" fill="#5E57FB"/>
<rect x="911.3" y="275.8" width="56.5" height="30.4" fill="#DFD8E6"/>
<rect x="911.30" y="275.80" width="19.83" height="3.46" fill="#9985F3"/>
<rect x="911.30" y="278.26" width="19.83" height="5.68" fill="#A18DF1"/>
<rect x="911.30" y="282.94" width="19.83" height="3.10" fill="#DFD8E6"/>
<rect x="911.30" y="285.04" width="19.83" height="3.34" fill="#9581F4"/>
<rect x="911.30" y="287.38" width="19.83" height="3.34" fill="#DFD8E6"/>
<rect x="911.30" y="289.72" width="19.83" height="3.45" fill="#9581F4"/>
<rect x="911.30" y="292.17" width="19.83" height="3.11" fill="#DFD8E6"/>
<rect x="911.30" y="294.28" width="19.83" height="3.57" fill="#A18DF1"/>
<rect x="911.30" y="296.85" width="19.83" height="9.35" fill="#DFD8E6"/>
<rect x="930.13" y="275.80" width="19.83" height="30.40" fill="#DFD8E6"/>
<rect x="948.97" y="275.80" width="18.83" height="3.46" fill="#655DFA"/>
<rect x="948.97" y="278.26" width="18.83" height="7.78" fill="#DFD8E6"/>
<rect x="948.97" y="285.04" width="18.83" height="3.34" fill="#6D62F9"/>
<rect x="948.97" y="287.38" width="18.83" height="3.34" fill="#DFD8E6"/>
<rect x="948.97" y="289.72" width="18.83" height="3.45" fill="#6D62F9"/>
<rect x="948.97" y="292.17" width="18.83" height="10.12" fill="#DFD8E6"/>
<rect x="948.97" y="301.29" width="18.83" height="3.46" fill="#6D62F9"/>
<rect x="948.97" y="303.75" width="18.83" height="2.45" fill="#DFD8E6"/>
<rect x="983.2" y="275.8" width="57.0" height="30.4" fill="#DFD8E6"/>
<rect x="983.20" y="275.80" width="20.00" height="14.92" fill="#DFD8E6"/>
<rect x="983.20" y="289.72" width="20.00" height="3.45" fill="#A895EF"/>
<rect x="983.20" y="292.17" width="20.00" height="7.79" fill="#DFD8E6"/>
<rect x="983.20" y="298.96" width="20.00" height="3.45" fill="#8F7DF5"/>
<rect x="983.20" y="301.41" width="20.00" height="4.79" fill="#DFD8E6"/>
<rect x="1002.20" y="275.80" width="20.00" height="12.46" fill="#DFD8E6"/>
<rect x="1002.20" y="287.26" width="20.00" height="3.46" fill="#A895EF"/>
<rect x="1002.20" y="289.72" width="20.00" height="16.48" fill="#DFD8E6"/>
<rect x="1021.20" y="275.80" width="19.00" height="5.45" fill="#DFD8E6"/>
<rect x="1021.20" y="280.25" width="19.00" height="3.57" fill="#A18DF1"/>
<rect x="1021.20" y="282.82" width="19.00" height="5.44" fill="#DFD8E6"/>
<rect x="1021.20" y="287.26" width="19.00" height="3.46" fill="#A18DF1"/>
<rect x="1021.20" y="289.72" width="19.00" height="5.56" fill="#DFD8E6"/>
<rect x="1021.20" y="294.28" width="19.00" height="3.57" fill="#7468F8"/>
<rect x="1021.20" y="296.85" width="19.00" height="3.11" fill="#DFD8E6"/>
<rect x="1021.20" y="298.96" width="19.00" height="3.45" fill="#A18DF1"/>
<rect x="1021.20" y="301.41" width="19.00" height="4.79" fill="#DFD8E6"/>
<rect x="1055.4" y="275.8" width="56.4" height="30.4" fill="#DFD8E6"/>
<rect x="1074.20" y="275.80" width="19.80" height="5.68" fill="#DFD8E6"/>
<rect x="1074.20" y="280.48" width="19.80" height="3.34" fill="#AC99EE"/>
<rect x="1074.20" y="282.82" width="19.80" height="12.58" fill="#DFD8E6"/>
<rect x="1074.20" y="294.40" width="19.80" height="3.33" fill="#AC99EE"/>
<rect x="1074.20" y="296.73" width="19.80" height="3.23" fill="#A491F0"/>
<rect x="1074.20" y="298.96" width="19.80" height="7.24" fill="#DFD8E6"/>
<rect x="1093.00" y="275.80" width="18.80" height="3.46" fill="#DFD8E6"/>
<rect x="1093.00" y="278.26" width="18.80" height="3.22" fill="#8F7DF5"/>
<rect x="1093.00" y="280.48" width="18.80" height="3.34" fill="#A18DF1"/>
<rect x="1093.00" y="282.82" width="18.80" height="10.47" fill="#DFD8E6"/>
<rect x="1093.00" y="292.29" width="18.80" height="2.76" fill="#8172F6"/>
<rect x="1093.00" y="294.05" width="18.80" height="3.68" fill="#DFD8E6"/>
<rect x="1093.00" y="296.73" width="18.80" height="3.23" fill="#A18DF1"/>
<rect x="1093.00" y="298.96" width="18.80" height="7.24" fill="#DFD8E6"/>
<rect x="1127.8" y="275.8" width="56.7" height="30.4" fill="#DFD8E6"/>
<rect x="1127.80" y="275.80" width="19.90" height="5.45" fill="#DFD8E6"/>
<rect x="1127.80" y="280.25" width="19.90" height="3.57" fill="#BAA7EA"/>
<rect x="1127.80" y="282.82" width="19.90" height="23.38" fill="#DFD8E6"/>
<rect x="1146.70" y="275.80" width="19.90" height="19.48" fill="#DFD8E6"/>
<rect x="1146.70" y="294.28" width="19.90" height="3.57" fill="#AC99EE"/>
<rect x="1146.70" y="296.85" width="19.90" height="5.56" fill="#DFD8E6"/>
<rect x="1146.70" y="301.41" width="19.90" height="3.22" fill="#BCABEA"/>
<rect x="1146.70" y="303.63" width="19.90" height="2.57" fill="#DFD8E6"/>
<rect x="1165.60" y="275.80" width="18.90" height="10.24" fill="#DFD8E6"/>
<rect x="1165.60" y="285.04" width="18.90" height="3.34" fill="#A895EF"/>
<rect x="1165.60" y="287.38" width="18.90" height="18.82" fill="#DFD8E6"/>
<rect x="767.4" y="309.8" width="56.5" height="16.3" fill="#DFD8E6"/>
<rect x="767.40" y="309.80" width="19.83" height="3.02" fill="#9581F4"/>
<rect x="767.40" y="311.82" width="19.83" height="3.10" fill="#B09DED"/>
<rect x="767.40" y="313.92" width="19.83" height="3.34" fill="#BAA7EA"/>
<rect x="767.40" y="316.26" width="19.83" height="4.27" fill="#D9D0E7"/>
<rect x="767.40" y="319.53" width="19.83" height="2.87" fill="#A895EF"/>
<rect x="767.40" y="321.40" width="19.83" height="3.34" fill="#DFD8E6"/>
<rect x="767.40" y="323.74" width="19.83" height="2.36" fill="#9985F3"/>
<rect x="786.23" y="309.80" width="19.83" height="3.02" fill="#9985F3"/>
<rect x="786.23" y="311.82" width="19.83" height="3.10" fill="#A895EF"/>
<rect x="786.23" y="313.92" width="19.83" height="6.61" fill="#DFD8E6"/>
<rect x="786.23" y="319.53" width="19.83" height="2.87" fill="#8172F6"/>
<rect x="786.23" y="321.40" width="19.83" height="4.70" fill="#DFD8E6"/>
<rect x="805.07" y="309.80" width="18.83" height="2.78" fill="#9985F3"/>
<rect x="805.07" y="311.58" width="18.83" height="8.95" fill="#DFD8E6"/>
<rect x="805.07" y="319.53" width="18.83" height="2.87" fill="#8F7DF5"/>
<rect x="805.07" y="321.40" width="18.83" height="3.34" fill="#BCABEA"/>
<rect x="805.07" y="323.74" width="18.83" height="2.36" fill="#AC99EE"/>
<rect x="839.3" y="309.8" width="56.4" height="16.3" fill="#DFD8E6"/>
<rect x="839.30" y="309.80" width="19.80" height="3.02" fill="#8877F6"/>
<rect x="839.30" y="311.82" width="19.80" height="6.02" fill="#A491F0"/>
<rect x="839.30" y="316.84" width="19.80" height="3.69" fill="#655DFA"/>
<rect x="839.30" y="319.53" width="19.80" height="2.87" fill="#4F48F2"/>
<rect x="839.30" y="321.40" width="19.80" height="3.34" fill="#9985F3"/>
<rect x="839.30" y="323.74" width="19.80" height="2.36" fill="#8877F6"/>
<rect x="858.10" y="309.80" width="19.80" height="3.02" fill="#6D62F9"/>
<rect x="858.10" y="311.82" width="19.80" height="3.10" fill="#9D89F2"/>
<rect x="858.10" y="313.92" width="19.80" height="3.92" fill="#9581F4"/>
<rect x="858.10" y="316.84" width="19.80" height="3.69" fill="#5953F9"/>
<rect x="858.10" y="319.53" width="19.80" height="2.87" fill="#4F48F2"/>
<rect x="858.10" y="321.40" width="19.80" height="3.34" fill="#8F7DF5"/>
<rect x="858.10" y="323.74" width="19.80" height="2.36" fill="#8172F6"/>
<rect x="876.90" y="309.80" width="18.80" height="3.02" fill="#8F7DF5"/>
<rect x="876.90" y="311.82" width="18.80" height="3.10" fill="#9985F3"/>
<rect x="876.90" y="313.92" width="18.80" height="3.92" fill="#A491F0"/>
<rect x="876.90" y="316.84" width="18.80" height="3.69" fill="#8F7DF5"/>
<rect x="876.90" y="319.53" width="18.80" height="2.87" fill="#524CF4"/>
<rect x="876.90" y="321.40" width="18.80" height="3.34" fill="#8F7DF5"/>
<rect x="876.90" y="323.74" width="18.80" height="2.36" fill="#8172F6"/>
<rect x="911.3" y="309.8" width="56.5" height="16.3" fill="#DFD8E6"/>
<rect x="911.30" y="309.80" width="19.83" height="3.37" fill="#524CF4"/>
<rect x="911.30" y="312.17" width="19.83" height="8.01" fill="#4C45EF"/>
<rect x="911.30" y="319.18" width="19.83" height="3.34" fill="#8172F6"/>
<rect x="911.30" y="321.52" width="19.83" height="4.58" fill="#372EDA"/>
<rect x="930.13" y="309.80" width="19.83" height="3.37" fill="#322AD4"/>
<rect x="930.13" y="312.17" width="19.83" height="8.01" fill="#342CD7"/>
<rect x="930.13" y="319.18" width="19.83" height="3.34" fill="#3B33E0"/>
<rect x="930.13" y="321.52" width="19.83" height="4.58" fill="#1F15B8"/>
<rect x="948.97" y="309.80" width="18.83" height="3.37" fill="#3F38E6"/>
<rect x="948.97" y="312.17" width="18.83" height="8.01" fill="#3F38E6"/>
<rect x="948.97" y="319.18" width="18.83" height="3.34" fill="#4C45EF"/>
<rect x="948.97" y="321.52" width="18.83" height="4.58" fill="#322AD4"/>
<rect x="983.2" y="309.8" width="57.0" height="16.3" fill="#DFD8E6"/>
<rect x="1021.20" y="309.80" width="19.00" height="5.36" fill="#DFD8E6"/>
<rect x="1021.20" y="314.16" width="19.00" height="3.33" fill="#A18DF1"/>
<rect x="1021.20" y="316.49" width="19.00" height="8.14" fill="#DFD8E6"/>
<rect x="1021.20" y="323.63" width="19.00" height="2.47" fill="#7468F8"/>
<rect x="1055.4" y="309.8" width="56.4" height="16.3" fill="#DFD8E6"/>
<rect x="1055.40" y="309.80" width="19.80" height="3.02" fill="#8F7DF5"/>
<rect x="1055.40" y="311.82" width="19.80" height="10.47" fill="#DFD8E6"/>
<rect x="1055.40" y="321.29" width="19.80" height="3.34" fill="#B09DED"/>
<rect x="1055.40" y="323.63" width="19.80" height="2.47" fill="#B4A1EC"/>
<rect x="1074.20" y="309.80" width="19.80" height="3.02" fill="#9985F3"/>
<rect x="1074.20" y="311.82" width="19.80" height="10.47" fill="#DFD8E6"/>
<rect x="1074.20" y="321.29" width="19.80" height="3.34" fill="#8F7DF5"/>
<rect x="1074.20" y="323.63" width="19.80" height="2.47" fill="#DFD8E6"/>
<rect x="1093.00" y="309.80" width="18.80" height="3.02" fill="#7468F8"/>
<rect x="1093.00" y="311.82" width="18.80" height="10.47" fill="#DFD8E6"/>
<rect x="1093.00" y="321.29" width="18.80" height="3.34" fill="#8877F6"/>
<rect x="1093.00" y="323.63" width="18.80" height="2.47" fill="#9D89F2"/>
<rect x="1127.8" y="309.8" width="56.7" height="16.3" fill="#DFD8E6"/>
<rect x="1127.80" y="309.80" width="19.90" height="3.37" fill="#DFD8E6"/>
<rect x="1127.80" y="312.17" width="19.90" height="3.22" fill="#BCABEA"/>
<rect x="1127.80" y="314.39" width="19.90" height="3.34" fill="#A895EF"/>
<rect x="1127.80" y="316.73" width="19.90" height="5.56" fill="#DFD8E6"/>
<rect x="1127.80" y="321.29" width="19.90" height="3.34" fill="#7468F8"/>
<rect x="1127.80" y="323.63" width="19.90" height="2.47" fill="#4C45EF"/>
<rect x="1146.70" y="309.80" width="19.90" height="5.59" fill="#DFD8E6"/>
<rect x="1146.70" y="314.39" width="19.90" height="3.34" fill="#A18DF1"/>
<rect x="1146.70" y="316.73" width="19.90" height="5.56" fill="#DFD8E6"/>
<rect x="1146.70" y="321.29" width="19.90" height="3.34" fill="#5953F9"/>
<rect x="1146.70" y="323.63" width="19.90" height="2.47" fill="#8172F6"/>
<rect x="1165.60" y="309.80" width="18.90" height="5.59" fill="#DFD8E6"/>
<rect x="1165.60" y="314.39" width="18.90" height="3.34" fill="#8172F6"/>
<rect x="1165.60" y="316.73" width="18.90" height="5.56" fill="#DFD8E6"/>
<rect x="1165.60" y="321.29" width="18.90" height="3.34" fill="#5953F9"/>
<rect x="1165.60" y="323.63" width="18.90" height="2.47" fill="#8877F6"/>
<rect x="767.4" y="329.8" width="56.5" height="64.6" fill="#DFD8E6"/>
<rect x="767.40" y="329.80" width="19.83" height="10.63" fill="#DFD8E6"/>
<rect x="767.40" y="339.43" width="19.83" height="2.90" fill="#B09DED"/>
<rect x="767.40" y="341.33" width="19.83" height="10.50" fill="#DFD8E6"/>
<rect x="767.40" y="350.83" width="19.83" height="3.04" fill="#D0C4E8"/>
<rect x="767.40" y="352.87" width="19.83" height="26.73" fill="#DFD8E6"/>
<rect x="767.40" y="378.60" width="19.83" height="5.24" fill="#B4A1EC"/>
<rect x="767.40" y="382.84" width="19.83" height="8.02" fill="#DFD8E6"/>
<rect x="767.40" y="389.86" width="19.83" height="3.48" fill="#B09DED"/>
<rect x="767.40" y="392.34" width="19.83" height="2.06" fill="#DFD8E6"/>
<rect x="786.23" y="329.80" width="19.83" height="22.03" fill="#DFD8E6"/>
<rect x="786.23" y="350.83" width="19.83" height="3.04" fill="#B09DED"/>
<rect x="786.23" y="352.87" width="19.83" height="8.17" fill="#DFD8E6"/>
<rect x="786.23" y="360.04" width="19.83" height="3.19" fill="#B4A1EC"/>
<rect x="786.23" y="362.23" width="19.83" height="3.34" fill="#B09DED"/>
<rect x="786.23" y="364.57" width="19.83" height="29.83" fill="#DFD8E6"/>
<rect x="805.07" y="329.80" width="18.83" height="33.43" fill="#DFD8E6"/>
<rect x="805.07" y="362.23" width="18.83" height="3.34" fill="#B09DED"/>
<rect x="805.07" y="364.57" width="18.83" height="29.83" fill="#DFD8E6"/>
<rect x="839.3" y="329.8" width="56.4" height="64.6" fill="#DFD8E6"/>
<rect x="858.10" y="329.80" width="19.80" height="22.03" fill="#DFD8E6"/>
<rect x="858.10" y="350.83" width="19.80" height="3.04" fill="#A895EF"/>
<rect x="858.10" y="352.87" width="19.80" height="8.17" fill="#DFD8E6"/>
<rect x="858.10" y="360.04" width="19.80" height="3.19" fill="#A895EF"/>
<rect x="858.10" y="362.23" width="19.80" height="23.95" fill="#DFD8E6"/>
<rect x="858.10" y="385.18" width="19.80" height="3.63" fill="#B7A4EB"/>
<rect x="858.10" y="387.81" width="19.80" height="3.05" fill="#DFD8E6"/>
<rect x="858.10" y="389.86" width="19.80" height="3.48" fill="#9985F3"/>
<rect x="858.10" y="392.34" width="19.80" height="2.06" fill="#DFD8E6"/>
<rect x="876.90" y="329.80" width="18.80" height="22.03" fill="#DFD8E6"/>
<rect x="876.90" y="350.83" width="18.80" height="3.04" fill="#AC99EE"/>
<rect x="876.90" y="352.87" width="18.80" height="41.53" fill="#DFD8E6"/>
<rect x="911.3" y="329.8" width="56.5" height="64.6" fill="#DFD8E6"/>
<rect x="983.2" y="329.8" width="57.0" height="64.6" fill="#DFD8E6"/>
<rect x="983.20" y="329.80" width="20.00" height="7.99" fill="#DFD8E6"/>
<rect x="983.20" y="336.79" width="20.00" height="4.66" fill="#B4A1EC"/>
<rect x="983.20" y="340.45" width="20.00" height="4.51" fill="#9581F4"/>
<rect x="983.20" y="343.96" width="20.00" height="7.87" fill="#DFD8E6"/>
<rect x="983.20" y="350.83" width="20.00" height="3.04" fill="#AC99EE"/>
<rect x="983.20" y="352.87" width="20.00" height="12.55" fill="#DFD8E6"/>
<rect x="983.20" y="364.42" width="20.00" height="3.63" fill="#B4A1EC"/>
<rect x="983.20" y="367.05" width="20.00" height="27.35" fill="#DFD8E6"/>
<rect x="1002.20" y="329.80" width="20.00" height="64.60" fill="#DFD8E6"/>
<rect x="1021.20" y="329.80" width="19.00" height="10.48" fill="#DFD8E6"/>
<rect x="1021.20" y="339.28" width="19.00" height="3.05" fill="#A18DF1"/>
<rect x="1021.20" y="341.33" width="19.00" height="19.71" fill="#DFD8E6"/>
<rect x="1021.20" y="360.04" width="19.00" height="3.19" fill="#A491F0"/>
<rect x="1021.20" y="362.23" width="19.00" height="3.19" fill="#DFD8E6"/>
<rect x="1021.20" y="364.42" width="19.00" height="3.63" fill="#7A6DF7"/>
<rect x="1021.20" y="367.05" width="19.00" height="27.35" fill="#DFD8E6"/>
<rect x="1055.4" y="329.8" width="56.4" height="64.6" fill="#DFD8E6"/>
<rect x="1055.40" y="329.80" width="19.80" height="5.22" fill="#9581F4"/>
<rect x="1055.40" y="334.02" width="19.80" height="7.14" fill="#A895EF"/>
<rect x="1055.40" y="340.16" width="19.80" height="6.55" fill="#A18DF1"/>
<rect x="1055.40" y="345.71" width="19.80" height="3.92" fill="#DFD8E6"/>
<rect x="1055.40" y="348.63" width="19.80" height="4.95" fill="#9985F3"/>
<rect x="1055.40" y="352.58" width="19.80" height="4.22" fill="#DFD8E6"/>
<rect x="1055.40" y="355.80" width="19.80" height="5.09" fill="#9985F3"/>
<rect x="1055.40" y="359.89" width="19.80" height="3.19" fill="#A491F0"/>
<rect x="1055.40" y="362.08" width="19.80" height="3.49" fill="#9985F3"/>
<rect x="1055.40" y="364.57" width="19.80" height="3.63" fill="#DFD8E6"/>
<rect x="1055.40" y="367.20" width="19.80" height="3.19" fill="#9581F4"/>
<rect x="1055.40" y="369.39" width="19.80" height="5.39" fill="#DFD8E6"/>
<rect x="1055.40" y="373.78" width="19.80" height="3.19" fill="#9985F3"/>
<rect x="1055.40" y="375.97" width="19.80" height="5.82" fill="#DFD8E6"/>
<rect x="1055.40" y="380.79" width="19.80" height="5.39" fill="#655DFA"/>
<rect x="1055.40" y="385.18" width="19.80" height="3.92" fill="#A18DF1"/>
<rect x="1055.40" y="388.10" width="19.80" height="4.95" fill="#9581F4"/>
<rect x="1055.40" y="392.05" width="19.80" height="2.35" fill="#DFD8E6"/>
<rect x="1074.20" y="329.80" width="19.80" height="5.22" fill="#9985F3"/>
<rect x="1074.20" y="334.02" width="19.80" height="6.26" fill="#A18DF1"/>
<rect x="1074.20" y="339.28" width="19.80" height="3.05" fill="#DFD8E6"/>
<rect x="1074.20" y="341.33" width="19.80" height="12.25" fill="#9985F3"/>
<rect x="1074.20" y="352.58" width="19.80" height="4.22" fill="#A895EF"/>
<rect x="1074.20" y="355.80" width="19.80" height="5.09" fill="#8F7DF5"/>
<rect x="1074.20" y="359.89" width="19.80" height="10.50" fill="#9985F3"/>
<rect x="1074.20" y="369.39" width="19.80" height="5.39" fill="#8F7DF5"/>
<rect x="1074.20" y="373.78" width="19.80" height="8.01" fill="#9985F3"/>
<rect x="1074.20" y="380.79" width="19.80" height="5.39" fill="#7A6DF7"/>
<rect x="1074.20" y="385.18" width="19.80" height="7.87" fill="#A18DF1"/>
<rect x="1074.20" y="392.05" width="19.80" height="2.35" fill="#DFD8E6"/>
<rect x="1093.00" y="329.80" width="18.80" height="5.22" fill="#8172F6"/>
<rect x="1093.00" y="334.02" width="18.80" height="7.14" fill="#9581F4"/>
<rect x="1093.00" y="340.16" width="18.80" height="6.55" fill="#8877F6"/>
<rect x="1093.00" y="345.71" width="18.80" height="7.87" fill="#8172F6"/>
<rect x="1093.00" y="352.58" width="18.80" height="4.22" fill="#8F7DF5"/>
<rect x="1093.00" y="355.80" width="18.80" height="5.09" fill="#8172F6"/>
<rect x="1093.00" y="359.89" width="18.80" height="5.68" fill="#9581F4"/>
<rect x="1093.00" y="364.57" width="18.80" height="5.38" fill="#7A6DF7"/>
<rect x="1093.00" y="368.95" width="18.80" height="4.07" fill="#DFD8E6"/>
<rect x="1093.00" y="372.02" width="18.80" height="11.24" fill="#9581F4"/>
<rect x="1093.00" y="382.26" width="18.80" height="3.92" fill="#554FF7"/>
<rect x="1093.00" y="385.18" width="18.80" height="3.92" fill="#DFD8E6"/>
<rect x="1093.00" y="388.10" width="18.80" height="4.95" fill="#8877F6"/>
<rect x="1093.00" y="392.05" width="18.80" height="2.35" fill="#DFD8E6"/>
<rect x="1127.8" y="329.8" width="56.7" height="64.6" fill="#DFD8E6"/>
<rect x="1127.80" y="329.80" width="19.90" height="3.32" fill="#DFD8E6"/>
<rect x="1127.80" y="332.12" width="19.90" height="2.90" fill="#A18DF1"/>
<rect x="1127.80" y="334.02" width="19.90" height="6.26" fill="#DFD8E6"/>
<rect x="1127.80" y="339.28" width="19.90" height="3.05" fill="#A18DF1"/>
<rect x="1127.80" y="341.33" width="19.90" height="12.54" fill="#DFD8E6"/>
<rect x="1127.80" y="352.87" width="19.90" height="3.63" fill="#A18DF1"/>
<rect x="1127.80" y="355.50" width="19.90" height="3.49" fill="#DFD8E6"/>
<rect x="1127.80" y="357.99" width="19.90" height="5.09" fill="#9985F3"/>
<rect x="1127.80" y="362.08" width="19.90" height="3.49" fill="#DFD8E6"/>
<rect x="1127.80" y="364.57" width="19.90" height="3.34" fill="#9985F3"/>
<rect x="1127.80" y="366.91" width="19.90" height="3.19" fill="#DFD8E6"/>
<rect x="1127.80" y="369.10" width="19.90" height="8.60" fill="#9D89F2"/>
<rect x="1127.80" y="376.70" width="19.90" height="6.85" fill="#8877F6"/>
<rect x="1127.80" y="382.55" width="19.90" height="3.63" fill="#C8BAE9"/>
<rect x="1127.80" y="385.18" width="19.90" height="9.22" fill="#8172F6"/>
<rect x="1146.70" y="329.80" width="19.90" height="5.51" fill="#DFD8E6"/>
<rect x="1146.70" y="334.31" width="19.90" height="5.97" fill="#A491F0"/>
<rect x="1146.70" y="339.28" width="19.90" height="5.53" fill="#DFD8E6"/>
<rect x="1146.70" y="343.81" width="19.90" height="2.90" fill="#BCABEA"/>
<rect x="1146.70" y="345.71" width="19.90" height="3.78" fill="#A18DF1"/>
<rect x="1146.70" y="348.49" width="19.90" height="3.63" fill="#DFD8E6"/>
<rect x="1146.70" y="351.12" width="19.90" height="4.65" fill="#A18DF1"/>
<rect x="1146.70" y="354.77" width="19.90" height="4.22" fill="#B09DED"/>
<rect x="1146.70" y="357.99" width="19.90" height="12.40" fill="#9D89F2"/>
<rect x="1146.70" y="369.39" width="19.90" height="10.50" fill="#9985F3"/>
<rect x="1146.70" y="378.89" width="19.90" height="4.66" fill="#8172F6"/>
<rect x="1146.70" y="382.55" width="19.90" height="3.63" fill="#9581F4"/>
<rect x="1146.70" y="385.18" width="19.90" height="5.68" fill="#7468F8"/>
<rect x="1146.70" y="389.86" width="19.90" height="4.54" fill="#655DFA"/>
<rect x="1165.60" y="329.80" width="18.90" height="3.32" fill="#DFD8E6"/>
<rect x="1165.60" y="332.12" width="18.90" height="2.90" fill="#A18DF1"/>
<rect x="1165.60" y="334.02" width="18.90" height="3.34" fill="#A895EF"/>
<rect x="1165.60" y="336.36" width="18.90" height="3.92" fill="#DFD8E6"/>
<rect x="1165.60" y="339.28" width="18.90" height="3.05" fill="#9D89F2"/>
<rect x="1165.60" y="341.33" width="18.90" height="10.79" fill="#DFD8E6"/>
<rect x="1165.60" y="351.12" width="18.90" height="5.38" fill="#9985F3"/>
<rect x="1165.60" y="355.50" width="18.90" height="3.49" fill="#A491F0"/>
<rect x="1165.60" y="357.99" width="18.90" height="5.09" fill="#9581F4"/>
<rect x="1165.60" y="362.08" width="18.90" height="8.31" fill="#8877F6"/>
<rect x="1165.60" y="369.39" width="18.90" height="9.04" fill="#8F7DF5"/>
<rect x="1165.60" y="377.43" width="18.90" height="6.12" fill="#9581F4"/>
<rect x="1165.60" y="382.55" width="18.90" height="6.55" fill="#AC99EE"/>
<rect x="1165.60" y="388.10" width="18.90" height="3.78" fill="#655DFA"/>
<rect x="1165.60" y="390.88" width="18.90" height="3.52" fill="#7468F8"/>
<defs><linearGradient id="cb" x1="0" x2="1" y1="0" y2="0"><stop offset="0.0000" stop-color="#DFD8E6"/><stop offset="0.1786" stop-color="#BBA9EA"/><stop offset="0.3571" stop-color="#9682F4"/><stop offset="0.5357" stop-color="#5B55FB"/><stop offset="0.7143" stop-color="#3F38E6"/><stop offset="0.8929" stop-color="#2A20C8"/><stop offset="1.0000" stop-color="#1A10B0"/></linearGradient></defs>
<rect x="898.9" y="431.8" width="192.2" height="27.8" fill="url(#cb)"/>
<line x1="933.2" x2="933.2" y1="431.8" y2="437.3" stroke="#fff" stroke-width="2" opacity="0.85"/>
<line x1="933.2" x2="933.2" y1="454.1" y2="459.6" stroke="#fff" stroke-width="2" opacity="0.85"/>
<text x="933.2" y="475.6" font-size="17.8" text-anchor="middle" font-family="Liberation Serif, serif" fill="#000">1</text>
<line x1="967.5" x2="967.5" y1="431.8" y2="437.3" stroke="#fff" stroke-width="2" opacity="0.85"/>
<line x1="967.5" x2="967.5" y1="454.1" y2="459.6" stroke="#fff" stroke-width="2" opacity="0.85"/>
<text x="967.5" y="475.6" font-size="17.8" text-anchor="middle" font-family="Liberation Serif, serif" fill="#000">2</text>
<line x1="1001.9" x2="1001.9" y1="431.8" y2="437.3" stroke="#fff" stroke-width="2" opacity="0.85"/>
<line x1="1001.9" x2="1001.9" y1="454.1" y2="459.6" stroke="#fff" stroke-width="2" opacity="0.85"/>
<text x="1001.9" y="475.6" font-size="17.8" text-anchor="middle" font-family="Liberation Serif, serif" fill="#000">3</text>
<line x1="1036.2" x2="1036.2" y1="431.8" y2="437.3" stroke="#fff" stroke-width="2" opacity="0.85"/>
<line x1="1036.2" x2="1036.2" y1="454.1" y2="459.6" stroke="#fff" stroke-width="2" opacity="0.85"/>
<text x="1036.2" y="475.6" font-size="17.8" text-anchor="middle" font-family="Liberation Serif, serif" fill="#000">4</text>
<line x1="1070.5" x2="1070.5" y1="431.8" y2="437.3" stroke="#fff" stroke-width="2" opacity="0.85"/>
<line x1="1070.5" x2="1070.5" y1="454.1" y2="459.6" stroke="#fff" stroke-width="2" opacity="0.85"/>
<text x="1070.5" y="475.6" font-size="17.8" text-anchor="middle" font-family="Liberation Serif, serif" fill="#000">5</text>
<text x="994.5" y="423.2" font-size="17.8" text-anchor="middle" font-family="Liberation Serif, serif" fill="#000">Log10 normalized abundance</text>
</g>
</svg>
</body></html>
